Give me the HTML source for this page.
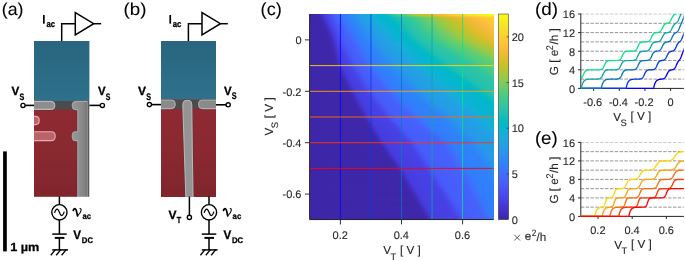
<!DOCTYPE html><html><head><meta charset="utf-8"><title>fig</title><style>html,body{margin:0;padding:0;background:#fff}svg text{white-space:pre}</style></head><body><svg width="685" height="261" viewBox="0 0 685 261" style="display:block">
<defs><filter id="bl" x="-10%" y="-10%" width="120%" height="120%"><feGaussianBlur stdDeviation="0.7"/></filter><filter id="bl2" x="-10%" y="-10%" width="120%" height="120%"><feGaussianBlur stdDeviation="0.45"/></filter></defs>
<rect width="685" height="261" fill="#fff"/>
<g opacity="0.999" text-rendering="geometricPrecision">
<defs><linearGradient id="tealg" x1="0" y1="0" x2="0" y2="1"><stop offset="0" stop-color="#29657e"/><stop offset="1" stop-color="#2e718c"/></linearGradient></defs>
<defs><linearGradient id="elg" gradientUnits="userSpaceOnUse" x1="72" y1="0" x2="88" y2="0"><stop offset="0" stop-color="#989898"/><stop offset="0.5" stop-color="#8c8c8c"/><stop offset="0.8" stop-color="#828282"/><stop offset="1" stop-color="#646464"/></linearGradient></defs>
<defs><linearGradient id="redg" x1="0" y1="0" x2="0" y2="1"><stop offset="0" stop-color="#902a32"/><stop offset="0.5" stop-color="#8a2930"/><stop offset="1" stop-color="#80252c"/></linearGradient></defs>
<text transform="translate(1.80,15.36) scale(1.0219,1.0000)" font-family="Liberation Sans" font-size="17.33" font-weight="normal" font-style="normal" fill="#000" stroke="#000" stroke-width="0.10">(a)</text>
<g>
<rect x="34" y="41" width="55.4" height="60.2" fill="url(#tealg)"/>
<rect x="34" y="101" width="55.4" height="96" fill="url(#redg)"/>
<rect x="34" y="101" width="55.4" height="8.6" fill="#4c4c4c"/>
<g filter="url(#bl2)">
<path d="M33,101.4 H50.6 Q54.8,101.4 54.8,105.4 Q54.8,109.4 50.6,109.4 H33 Z" fill="none" stroke="#4a3034" stroke-width="2.2" opacity="0.55"/>
<path d="M33,101.4 H50.6 Q54.8,101.4 54.8,105.4 Q54.8,109.4 50.6,109.4 H33 Z" fill="#8e8e8e" stroke="#b8b8b8" stroke-width="1.1"/>
<path d="M87.4,101.4 H76.4 Q72.2,101.4 72.2,105.6 Q72.2,109.6 75.4,109.6 H77.8 V131.8 H75.2 Q72.2,131.8 72.2,136.2 Q72.2,140.6 75.2,140.6 H77.8 V198 H87.4 Z" fill="none" stroke="#4a3034" stroke-width="2.2" opacity="0.55"/>
<path d="M87.4,101.4 H76.4 Q72.2,101.4 72.2,105.6 Q72.2,109.6 75.4,109.6 H77.8 V131.8 H75.2 Q72.2,131.8 72.2,136.2 Q72.2,140.6 75.2,140.6 H77.8 V198 H87.4 Z" fill="url(#elg)" stroke="#a6a6a6" stroke-width="1.1"/>
<path d="M33,116.4 H35.6 Q39.2,116.4 39.2,120.5 Q39.2,124.6 35.6,124.6 H33 Z" fill="#bc646b" stroke="#e4aeb0" stroke-width="1.1"/>
<path d="M33,131.8 H51.2 Q55.2,131.8 55.2,136.2 Q55.2,140.6 51.2,140.6 H33 Z" fill="#bc646b" stroke="#e4aeb0" stroke-width="1.1"/>
</g>
<rect x="87.7" y="101" width="1.7" height="96" fill="#5a5a5a"/>
<rect x="28" y="100" width="6" height="98" fill="#fff"/><rect x="34" y="196.8" width="56" height="3" fill="#fff"/><rect x="89.4" y="100" width="4" height="98" fill="#fff"/>
</g>
<path d="M61.7,41 V23.8 H75.3" fill="none" stroke="#000" stroke-width="1.5"/>
<path d="M75.3,12.6 V34.8 L93.7,23.7 Z" fill="#fff" stroke="#000" stroke-width="1.5" stroke-linejoin="miter"/>
<path d="M93.7,23.7 H101.1" fill="none" stroke="#000" stroke-width="1.5"/>
<path d="M25.1,105.4 H34" stroke="#000" stroke-width="1.6" fill="none"/>
<circle cx="23" cy="105.4" r="2.1" fill="#fff" stroke="#000" stroke-width="1.35"/>
<path d="M100.30000000000001,105.4 H89.4" stroke="#000" stroke-width="1.6" fill="none"/>
<circle cx="102.4" cy="105.4" r="2.1" fill="#fff" stroke="#000" stroke-width="1.35"/>
<text transform="translate(11.40,95.40) scale(0.9635,1.0000)" font-family="Liberation Sans" font-size="12.17" font-weight="bold" font-style="normal" fill="#000" stroke="#000" stroke-width="0.30">V</text>
<text transform="translate(19.40,99.51) scale(0.7765,1.0000)" font-family="Liberation Sans" font-size="9.30" font-weight="bold" font-style="normal" fill="#000" stroke="#000" stroke-width="0.30">S</text>
<text transform="translate(98.00,95.40) scale(0.9388,1.0000)" font-family="Liberation Sans" font-size="12.17" font-weight="bold" font-style="normal" fill="#000" stroke="#000" stroke-width="0.30">V</text>
<text transform="translate(105.80,99.51) scale(0.7441,1.0000)" font-family="Liberation Sans" font-size="9.30" font-weight="bold" font-style="normal" fill="#000" stroke="#000" stroke-width="0.30">S</text>
<rect x="43.0" y="15.0" width="1.7" height="8.7" fill="#000"/>
<text transform="translate(46.40,26.91) scale(0.8523,1.0000)" font-family="Liberation Sans" font-size="9.09" font-weight="bold" font-style="normal" fill="#000" stroke="#000" stroke-width="0.30">ac</text>
<path d="M59.4,196.4 V204.6 M59.4,220 V234 M59.4,237.6 V250" stroke="#000" stroke-width="1.5" fill="none"/>
<circle cx="59.4" cy="212.3" r="7.65" fill="#fff" stroke="#000" stroke-width="1.4"/>
<path d="M54.5,212.9 C56.0,207.9 57.9,207.9 59.4,212.3 C60.9,216.7 62.8,216.7 64.3,211.7" fill="none" stroke="#000" stroke-width="1.2"/>
<path d="M52.199999999999996,234.1 H66.7" stroke="#000" stroke-width="1.5"/>
<path d="M54.8,237.9 H64.4" stroke="#000" stroke-width="2.0"/>
<path d="M52.199999999999996,249.9 H68.0" stroke="#000" stroke-width="1.5"/>
<path d="M55.4,249.6 L50.8,255.2" stroke="#000" stroke-width="1.35"/>
<path d="M60.8,249.6 L56.199999999999996,255.2" stroke="#000" stroke-width="1.35"/>
<path d="M66.19999999999999,249.6 L61.599999999999994,255.2" stroke="#000" stroke-width="1.35"/>
<g transform="translate(0.00,0)" fill="none" stroke="#000" stroke-linecap="round" stroke-linejoin="round"><path d="M73.3,210.4 C73.7,209.2 74.5,208.5 75.3,208.8 C76.1,209.1 76.4,210.6 76.7,212.1 L77.5,215.9" stroke-width="1.75"/><path d="M77.5,215.9 C79.3,214.2 80.8,212.2 81.1,210.4 C81.3,209.3 80.9,208.6 80.0,208.6" stroke-width="1.05"/></g>
<text transform="translate(82.40,219.12) scale(0.9264,1.0000)" font-family="Liberation Sans" font-size="8.36" font-weight="bold" font-style="normal" fill="#000" stroke="#000" stroke-width="0.30">ac</text>
<text transform="translate(73.20,239.20) scale(0.9411,1.0000)" font-family="Liberation Sans" font-size="12.46" font-weight="bold" font-style="normal" fill="#000" stroke="#000" stroke-width="0.30">V</text>
<text transform="translate(81.80,243.32) scale(0.9488,1.0000)" font-family="Liberation Sans" font-size="8.17" font-weight="bold" font-style="normal" fill="#000" stroke="#000" stroke-width="0.30">DC</text>
<rect x="3.1" y="151.4" width="3.7" height="100" fill="#000"/>
<text transform="translate(10.20,251.13) scale(1.0779,1.0000)" font-family="Liberation Sans" font-size="11.78" font-weight="bold" font-style="normal" fill="#000" stroke="#000" stroke-width="0.28">1 µm</text>
<text transform="translate(123.60,15.36) scale(1.0786,1.0000)" font-family="Liberation Sans" font-size="17.33" font-weight="normal" font-style="normal" fill="#000" stroke="#000" stroke-width="0.09">(b)</text>
<g>
<rect x="161" y="41" width="55" height="58.6" fill="url(#tealg)"/>
<rect x="161" y="99.4" width="55" height="98" fill="url(#redg)"/>
<rect x="161" y="99.4" width="55" height="9.2" fill="#4c4c4c"/>
<g filter="url(#bl2)">
<path d="M160,100 H171.2 Q175.2,100 175.2,104.3 Q175.2,108.6 171.2,108.6 H160 Z" fill="none" stroke="#4a3034" stroke-width="2.2" opacity="0.55"/>
<path d="M160,100 H171.2 Q175.2,100 175.2,104.3 Q175.2,108.6 171.2,108.6 H160 Z" fill="#8a8a8a" stroke="#b0b0b0" stroke-width="1.1"/>
<path d="M217,100 H202.6 Q198.6,100 198.6,104.3 Q198.6,108.6 202.6,108.6 H217 Z" fill="none" stroke="#4a3034" stroke-width="2.2" opacity="0.55"/>
<path d="M217,100 H202.6 Q198.6,100 198.6,104.3 Q198.6,108.6 202.6,108.6 H217 Z" fill="#8a8a8a" stroke="#b0b0b0" stroke-width="1.1"/>
<path d="M182.8,105 Q182.8,100.2 187.4,100.2 Q191.8,100.2 191.8,105 L192.3,150 L193.1,199 H185.9 L184.3,150 Z" fill="none" stroke="#4a3034" stroke-width="2.2" opacity="0.55"/>
<path d="M182.8,105 Q182.8,100.2 187.4,100.2 Q191.8,100.2 191.8,105 L192.3,150 L193.1,199 H185.9 L184.3,150 Z" fill="#949494" stroke="#b6b6b6" stroke-width="1.1"/>
</g>
<rect x="155" y="98" width="6" height="100" fill="#fff"/><rect x="161" y="197.0" width="56" height="3" fill="#fff"/><rect x="216" y="98" width="4" height="100" fill="#fff"/>
</g>
<path d="M188.4,41 V23.8 H202.0" fill="none" stroke="#000" stroke-width="1.5"/>
<path d="M202.0,12.6 V34.8 L220.4,23.7 Z" fill="#fff" stroke="#000" stroke-width="1.5" stroke-linejoin="miter"/>
<path d="M220.4,23.7 H227.8" fill="none" stroke="#000" stroke-width="1.5"/>
<path d="M151.5,104.6 H161" stroke="#000" stroke-width="1.6" fill="none"/>
<circle cx="149.4" cy="104.6" r="2.1" fill="#fff" stroke="#000" stroke-width="1.35"/>
<path d="M226.1,104.8 H216" stroke="#000" stroke-width="1.6" fill="none"/>
<circle cx="228.2" cy="104.8" r="2.1" fill="#fff" stroke="#000" stroke-width="1.35"/>
<text transform="translate(138.00,95.40) scale(0.9882,1.0000)" font-family="Liberation Sans" font-size="12.17" font-weight="bold" font-style="normal" fill="#000" stroke="#000" stroke-width="0.30">V</text>
<text transform="translate(146.20,99.70) scale(0.7536,1.0000)" font-family="Liberation Sans" font-size="9.58" font-weight="bold" font-style="normal" fill="#000" stroke="#000" stroke-width="0.30">S</text>
<text transform="translate(224.00,95.00) scale(0.9388,1.0000)" font-family="Liberation Sans" font-size="12.17" font-weight="bold" font-style="normal" fill="#000" stroke="#000" stroke-width="0.30">V</text>
<text transform="translate(231.80,99.30) scale(0.7536,1.0000)" font-family="Liberation Sans" font-size="9.58" font-weight="bold" font-style="normal" fill="#000" stroke="#000" stroke-width="0.30">S</text>
<rect x="169.4" y="15.0" width="1.7" height="8.7" fill="#000"/>
<text transform="translate(172.80,26.91) scale(0.8523,1.0000)" font-family="Liberation Sans" font-size="9.09" font-weight="bold" font-style="normal" fill="#000" stroke="#000" stroke-width="0.30">ac</text>
<path d="M209.0,196.6 V204.6 M209.0,220 V234 M209.0,237.6 V250" stroke="#000" stroke-width="1.5" fill="none"/>
<circle cx="209.0" cy="212.3" r="7.65" fill="#fff" stroke="#000" stroke-width="1.4"/>
<path d="M204.1,212.9 C205.6,207.9 207.5,207.9 209.0,212.3 C210.5,216.7 212.4,216.7 213.9,211.7" fill="none" stroke="#000" stroke-width="1.2"/>
<path d="M201.8,234.1 H216.3" stroke="#000" stroke-width="1.5"/>
<path d="M204.4,237.9 H214.0" stroke="#000" stroke-width="2.0"/>
<path d="M201.8,249.9 H217.6" stroke="#000" stroke-width="1.5"/>
<path d="M205.0,249.6 L200.4,255.2" stroke="#000" stroke-width="1.35"/>
<path d="M210.4,249.6 L205.8,255.2" stroke="#000" stroke-width="1.35"/>
<path d="M215.79999999999998,249.6 L211.2,255.2" stroke="#000" stroke-width="1.35"/>
<g transform="translate(150.20,0)" fill="none" stroke="#000" stroke-linecap="round" stroke-linejoin="round"><path d="M73.3,210.4 C73.7,209.2 74.5,208.5 75.3,208.8 C76.1,209.1 76.4,210.6 76.7,212.1 L77.5,215.9" stroke-width="1.75"/><path d="M77.5,215.9 C79.3,214.2 80.8,212.2 81.1,210.4 C81.3,209.3 80.9,208.6 80.0,208.6" stroke-width="1.05"/></g>
<text transform="translate(232.60,219.12) scale(0.9264,1.0000)" font-family="Liberation Sans" font-size="8.36" font-weight="bold" font-style="normal" fill="#000" stroke="#000" stroke-width="0.30">ac</text>
<text transform="translate(223.40,239.20) scale(0.9411,1.0000)" font-family="Liberation Sans" font-size="12.46" font-weight="bold" font-style="normal" fill="#000" stroke="#000" stroke-width="0.30">V</text>
<text transform="translate(232.00,243.32) scale(0.9488,1.0000)" font-family="Liberation Sans" font-size="8.17" font-weight="bold" font-style="normal" fill="#000" stroke="#000" stroke-width="0.30">DC</text>
<path d="M189.4,196.6 V215.4" stroke="#000" stroke-width="1.5" fill="none"/>
<circle cx="189.4" cy="217.4" r="2.1" fill="#fff" stroke="#000" stroke-width="1.35"/>
<text transform="translate(168.60,219.40) scale(0.9882,1.0000)" font-family="Liberation Sans" font-size="12.17" font-weight="bold" font-style="normal" fill="#000" stroke="#000" stroke-width="0.30">V</text>
<text transform="translate(176.80,223.00) scale(0.8295,1.0000)" font-family="Liberation Sans" font-size="8.70" font-weight="bold" font-style="normal" fill="#000" stroke="#000" stroke-width="0.30">T</text>
<text transform="translate(260.60,15.32) scale(1.0375,1.0000)" font-family="Liberation Sans" font-size="17.54" font-weight="normal" font-style="normal" fill="#000" stroke="#000" stroke-width="0.10">(c)</text>
<defs><linearGradient id="r0"><stop offset="0.000" stop-color="#3e26a8"/><stop offset="0.038" stop-color="#3e27ab"/><stop offset="0.054" stop-color="#402bb8"/><stop offset="0.071" stop-color="#4536d4"/><stop offset="0.082" stop-color="#463de0"/><stop offset="0.125" stop-color="#475af9"/><stop offset="0.158" stop-color="#3f6eff"/><stop offset="0.185" stop-color="#317efb"/><stop offset="0.262" stop-color="#259be8"/><stop offset="0.300" stop-color="#1fa6e1"/><stop offset="0.332" stop-color="#14b0d8"/><stop offset="0.387" stop-color="#02b7cb"/><stop offset="0.403" stop-color="#02bac4"/><stop offset="0.414" stop-color="#0abdbe"/><stop offset="0.441" stop-color="#2bc3a8"/><stop offset="0.474" stop-color="#40ca8d"/><stop offset="0.512" stop-color="#61cd72"/><stop offset="0.529" stop-color="#75cc61"/><stop offset="0.545" stop-color="#8fcb4e"/><stop offset="0.578" stop-color="#adc638"/><stop offset="0.610" stop-color="#c5c22a"/><stop offset="0.627" stop-color="#d0bf27"/><stop offset="0.649" stop-color="#dfbc2a"/><stop offset="0.681" stop-color="#efba36"/><stop offset="0.703" stop-color="#f8ba3d"/><stop offset="0.725" stop-color="#febe3c"/><stop offset="0.785" stop-color="#fccf30"/><stop offset="0.866" stop-color="#f5e327"/><stop offset="0.916" stop-color="#f6f020"/><stop offset="0.997" stop-color="#f9fb15"/></linearGradient><linearGradient id="r1"><stop offset="0.000" stop-color="#3e26a8"/><stop offset="0.038" stop-color="#3e27aa"/><stop offset="0.054" stop-color="#402ab4"/><stop offset="0.076" stop-color="#4538d8"/><stop offset="0.087" stop-color="#473fe2"/><stop offset="0.125" stop-color="#4758f8"/><stop offset="0.163" stop-color="#3e70ff"/><stop offset="0.185" stop-color="#327cfc"/><stop offset="0.218" stop-color="#2d88f6"/><stop offset="0.262" stop-color="#269ae9"/><stop offset="0.300" stop-color="#20a5e2"/><stop offset="0.338" stop-color="#14b0d8"/><stop offset="0.392" stop-color="#02b7cb"/><stop offset="0.409" stop-color="#02bac4"/><stop offset="0.420" stop-color="#09bcbe"/><stop offset="0.447" stop-color="#29c3a9"/><stop offset="0.485" stop-color="#41ca8c"/><stop offset="0.512" stop-color="#57cc7a"/><stop offset="0.529" stop-color="#68cd6c"/><stop offset="0.550" stop-color="#88cb53"/><stop offset="0.589" stop-color="#aac73a"/><stop offset="0.627" stop-color="#c6c22a"/><stop offset="0.643" stop-color="#d1bf27"/><stop offset="0.692" stop-color="#ecba33"/><stop offset="0.719" stop-color="#f7ba3c"/><stop offset="0.747" stop-color="#febf3b"/><stop offset="0.796" stop-color="#fdcd32"/><stop offset="0.888" stop-color="#f5e327"/><stop offset="0.937" stop-color="#f6ef20"/><stop offset="0.997" stop-color="#f8f818"/></linearGradient><linearGradient id="r2"><stop offset="0.000" stop-color="#3e26a8"/><stop offset="0.044" stop-color="#3e27ab"/><stop offset="0.060" stop-color="#402bb8"/><stop offset="0.076" stop-color="#4536d5"/><stop offset="0.087" stop-color="#463ee1"/><stop offset="0.125" stop-color="#4756f7"/><stop offset="0.163" stop-color="#3f6efe"/><stop offset="0.191" stop-color="#317dfc"/><stop offset="0.218" stop-color="#2e86f7"/><stop offset="0.267" stop-color="#269ae8"/><stop offset="0.305" stop-color="#20a5e2"/><stop offset="0.343" stop-color="#14b0d8"/><stop offset="0.403" stop-color="#01b8ca"/><stop offset="0.420" stop-color="#02bac4"/><stop offset="0.431" stop-color="#08bcbf"/><stop offset="0.463" stop-color="#29c3aa"/><stop offset="0.512" stop-color="#3cc991"/><stop offset="0.529" stop-color="#46cb88"/><stop offset="0.583" stop-color="#79cc5e"/><stop offset="0.665" stop-color="#bbc430"/><stop offset="0.698" stop-color="#cfc028"/><stop offset="0.725" stop-color="#ddbd29"/><stop offset="0.779" stop-color="#f6ba3b"/><stop offset="0.807" stop-color="#febd3c"/><stop offset="0.839" stop-color="#fec438"/><stop offset="0.943" stop-color="#f6dd29"/><stop offset="0.997" stop-color="#f5e626"/></linearGradient><linearGradient id="r3"><stop offset="0.000" stop-color="#3e26a8"/><stop offset="0.044" stop-color="#3e27aa"/><stop offset="0.060" stop-color="#402ab4"/><stop offset="0.082" stop-color="#4539d8"/><stop offset="0.093" stop-color="#473fe3"/><stop offset="0.131" stop-color="#4758f8"/><stop offset="0.169" stop-color="#3e6fff"/><stop offset="0.191" stop-color="#327cfc"/><stop offset="0.223" stop-color="#2e87f7"/><stop offset="0.267" stop-color="#2699e9"/><stop offset="0.338" stop-color="#18aedb"/><stop offset="0.381" stop-color="#08b4d1"/><stop offset="0.414" stop-color="#01b8ca"/><stop offset="0.431" stop-color="#02bac5"/><stop offset="0.447" stop-color="#0abdbd"/><stop offset="0.480" stop-color="#24c2ae"/><stop offset="0.529" stop-color="#33c79d"/><stop offset="0.556" stop-color="#3fca8e"/><stop offset="0.621" stop-color="#6fcd66"/><stop offset="0.681" stop-color="#a1c840"/><stop offset="0.741" stop-color="#c5c22a"/><stop offset="0.763" stop-color="#d2bf27"/><stop offset="0.807" stop-color="#e8bb2f"/><stop offset="0.861" stop-color="#f8ba3d"/><stop offset="0.883" stop-color="#fdbd3d"/><stop offset="0.997" stop-color="#fad52d"/></linearGradient><linearGradient id="r4"><stop offset="0.000" stop-color="#3e26a8"/><stop offset="0.049" stop-color="#3e27ab"/><stop offset="0.065" stop-color="#402bb6"/><stop offset="0.087" stop-color="#463ada"/><stop offset="0.098" stop-color="#4740e4"/><stop offset="0.136" stop-color="#475af9"/><stop offset="0.174" stop-color="#3e70ff"/><stop offset="0.196" stop-color="#327cfc"/><stop offset="0.229" stop-color="#2e87f7"/><stop offset="0.272" stop-color="#2699e9"/><stop offset="0.343" stop-color="#19addc"/><stop offset="0.392" stop-color="#07b5d0"/><stop offset="0.425" stop-color="#01b8ca"/><stop offset="0.441" stop-color="#02bac4"/><stop offset="0.496" stop-color="#24c1ae"/><stop offset="0.540" stop-color="#31c6a0"/><stop offset="0.578" stop-color="#40ca8d"/><stop offset="0.638" stop-color="#69cd6a"/><stop offset="0.703" stop-color="#9ec942"/><stop offset="0.768" stop-color="#c6c22a"/><stop offset="0.790" stop-color="#d3bf27"/><stop offset="0.823" stop-color="#e2bc2b"/><stop offset="0.894" stop-color="#f8ba3d"/><stop offset="0.916" stop-color="#febd3c"/><stop offset="0.997" stop-color="#fdce31"/></linearGradient><linearGradient id="r5"><stop offset="0.000" stop-color="#3e26a8"/><stop offset="0.049" stop-color="#3e27aa"/><stop offset="0.060" stop-color="#3f28ad"/><stop offset="0.071" stop-color="#402bb6"/><stop offset="0.093" stop-color="#463adb"/><stop offset="0.104" stop-color="#4740e4"/><stop offset="0.142" stop-color="#475af9"/><stop offset="0.180" stop-color="#3e6fff"/><stop offset="0.202" stop-color="#327cfc"/><stop offset="0.234" stop-color="#2e86f7"/><stop offset="0.283" stop-color="#269ae9"/><stop offset="0.327" stop-color="#20a5e3"/><stop offset="0.371" stop-color="#12b1d6"/><stop offset="0.403" stop-color="#07b5d0"/><stop offset="0.436" stop-color="#01b8ca"/><stop offset="0.452" stop-color="#02bac4"/><stop offset="0.507" stop-color="#25c2ae"/><stop offset="0.550" stop-color="#31c6a0"/><stop offset="0.583" stop-color="#3eca8f"/><stop offset="0.649" stop-color="#69cd6a"/><stop offset="0.714" stop-color="#9dc943"/><stop offset="0.779" stop-color="#c4c22b"/><stop offset="0.801" stop-color="#d1bf27"/><stop offset="0.823" stop-color="#ddbd29"/><stop offset="0.910" stop-color="#f8ba3d"/><stop offset="0.932" stop-color="#febe3c"/><stop offset="0.997" stop-color="#fdcc32"/></linearGradient><linearGradient id="r6"><stop offset="0.000" stop-color="#3e26a8"/><stop offset="0.049" stop-color="#3e27a9"/><stop offset="0.065" stop-color="#3f28ad"/><stop offset="0.076" stop-color="#402bb7"/><stop offset="0.098" stop-color="#463adb"/><stop offset="0.109" stop-color="#4741e4"/><stop offset="0.142" stop-color="#4757f7"/><stop offset="0.185" stop-color="#3e6fff"/><stop offset="0.207" stop-color="#327bfc"/><stop offset="0.245" stop-color="#2d87f6"/><stop offset="0.294" stop-color="#269be8"/><stop offset="0.338" stop-color="#20a5e2"/><stop offset="0.381" stop-color="#12b1d6"/><stop offset="0.414" stop-color="#07b5d0"/><stop offset="0.447" stop-color="#01b8c9"/><stop offset="0.463" stop-color="#02bac4"/><stop offset="0.512" stop-color="#23c1af"/><stop offset="0.561" stop-color="#32c69f"/><stop offset="0.594" stop-color="#3fca8e"/><stop offset="0.659" stop-color="#69cd6a"/><stop offset="0.725" stop-color="#9dc943"/><stop offset="0.790" stop-color="#c3c22b"/><stop offset="0.812" stop-color="#d0bf27"/><stop offset="0.834" stop-color="#dbbd29"/><stop offset="0.926" stop-color="#f9ba3d"/><stop offset="0.948" stop-color="#febe3c"/><stop offset="0.997" stop-color="#fec934"/></linearGradient><linearGradient id="r7"><stop offset="0.000" stop-color="#3e26a8"/><stop offset="0.054" stop-color="#3e27a9"/><stop offset="0.071" stop-color="#3f28ad"/><stop offset="0.082" stop-color="#402bb7"/><stop offset="0.104" stop-color="#463adb"/><stop offset="0.114" stop-color="#4741e5"/><stop offset="0.147" stop-color="#4757f7"/><stop offset="0.191" stop-color="#3f6eff"/><stop offset="0.218" stop-color="#317dfc"/><stop offset="0.251" stop-color="#2e87f7"/><stop offset="0.300" stop-color="#269ae9"/><stop offset="0.349" stop-color="#20a5e2"/><stop offset="0.392" stop-color="#12b1d6"/><stop offset="0.452" stop-color="#02b7cb"/><stop offset="0.474" stop-color="#02bac3"/><stop offset="0.523" stop-color="#23c1af"/><stop offset="0.589" stop-color="#38c896"/><stop offset="0.659" stop-color="#62cd70"/><stop offset="0.736" stop-color="#9cc944"/><stop offset="0.807" stop-color="#c5c22a"/><stop offset="0.828" stop-color="#d2bf27"/><stop offset="0.877" stop-color="#e7bb2e"/><stop offset="0.937" stop-color="#f8ba3d"/><stop offset="0.965" stop-color="#febe3c"/><stop offset="0.997" stop-color="#fec636"/></linearGradient><linearGradient id="r8"><stop offset="0.000" stop-color="#3e26a8"/><stop offset="0.054" stop-color="#3e26a9"/><stop offset="0.076" stop-color="#3f28ad"/><stop offset="0.087" stop-color="#402bb7"/><stop offset="0.109" stop-color="#463adc"/><stop offset="0.120" stop-color="#4741e5"/><stop offset="0.153" stop-color="#4758f8"/><stop offset="0.196" stop-color="#3f6eff"/><stop offset="0.223" stop-color="#317dfc"/><stop offset="0.256" stop-color="#2e86f7"/><stop offset="0.305" stop-color="#2699e9"/><stop offset="0.360" stop-color="#1fa5e2"/><stop offset="0.403" stop-color="#12b1d6"/><stop offset="0.463" stop-color="#01b7ca"/><stop offset="0.485" stop-color="#02bbc3"/><stop offset="0.534" stop-color="#24c1ae"/><stop offset="0.599" stop-color="#39c995"/><stop offset="0.670" stop-color="#62cd70"/><stop offset="0.752" stop-color="#9fc942"/><stop offset="0.817" stop-color="#c4c22b"/><stop offset="0.839" stop-color="#d1bf27"/><stop offset="0.888" stop-color="#e6bb2d"/><stop offset="0.954" stop-color="#f8ba3d"/><stop offset="0.997" stop-color="#fec339"/></linearGradient><linearGradient id="r9"><stop offset="0.000" stop-color="#3e26a8"/><stop offset="0.076" stop-color="#3e27ab"/><stop offset="0.093" stop-color="#402bb8"/><stop offset="0.109" stop-color="#4537d6"/><stop offset="0.125" stop-color="#4742e6"/><stop offset="0.158" stop-color="#4758f8"/><stop offset="0.191" stop-color="#4366fd"/><stop offset="0.207" stop-color="#3d70ff"/><stop offset="0.229" stop-color="#327cfc"/><stop offset="0.267" stop-color="#2e87f7"/><stop offset="0.316" stop-color="#269ae9"/><stop offset="0.365" stop-color="#20a4e3"/><stop offset="0.414" stop-color="#11b1d6"/><stop offset="0.474" stop-color="#01b8ca"/><stop offset="0.490" stop-color="#02bac5"/><stop offset="0.507" stop-color="#09bdbe"/><stop offset="0.545" stop-color="#24c2ae"/><stop offset="0.605" stop-color="#37c898"/><stop offset="0.665" stop-color="#58cc79"/><stop offset="0.703" stop-color="#6fcd66"/><stop offset="0.763" stop-color="#9dc943"/><stop offset="0.834" stop-color="#c5c22a"/><stop offset="0.856" stop-color="#d1bf27"/><stop offset="0.894" stop-color="#e3bc2c"/><stop offset="0.965" stop-color="#f7ba3c"/><stop offset="0.997" stop-color="#febf3b"/></linearGradient><linearGradient id="r10"><stop offset="0.000" stop-color="#3e26a8"/><stop offset="0.082" stop-color="#3e27ac"/><stop offset="0.098" stop-color="#412cb9"/><stop offset="0.120" stop-color="#463cde"/><stop offset="0.136" stop-color="#4746ea"/><stop offset="0.163" stop-color="#4759f8"/><stop offset="0.213" stop-color="#3f6fff"/><stop offset="0.240" stop-color="#317dfc"/><stop offset="0.272" stop-color="#2e86f7"/><stop offset="0.322" stop-color="#2699e9"/><stop offset="0.376" stop-color="#20a4e3"/><stop offset="0.420" stop-color="#13b0d7"/><stop offset="0.452" stop-color="#08b5d0"/><stop offset="0.485" stop-color="#01b8ca"/><stop offset="0.501" stop-color="#02bac4"/><stop offset="0.550" stop-color="#22c1b0"/><stop offset="0.621" stop-color="#39c895"/><stop offset="0.676" stop-color="#58cc7a"/><stop offset="0.714" stop-color="#6dcd67"/><stop offset="0.779" stop-color="#9ec942"/><stop offset="0.850" stop-color="#c5c22a"/><stop offset="0.872" stop-color="#d2bf27"/><stop offset="0.905" stop-color="#e1bc2b"/><stop offset="0.981" stop-color="#f8ba3d"/><stop offset="0.997" stop-color="#fcbd3d"/></linearGradient><linearGradient id="r11"><stop offset="0.000" stop-color="#3e26a8"/><stop offset="0.087" stop-color="#3e27ac"/><stop offset="0.104" stop-color="#412dbb"/><stop offset="0.125" stop-color="#463ddf"/><stop offset="0.142" stop-color="#4747eb"/><stop offset="0.169" stop-color="#475af9"/><stop offset="0.218" stop-color="#406dfe"/><stop offset="0.245" stop-color="#327cfc"/><stop offset="0.283" stop-color="#2e87f7"/><stop offset="0.327" stop-color="#2798ea"/><stop offset="0.387" stop-color="#20a4e3"/><stop offset="0.431" stop-color="#13b0d7"/><stop offset="0.463" stop-color="#07b5d0"/><stop offset="0.496" stop-color="#01b8c9"/><stop offset="0.512" stop-color="#02bac4"/><stop offset="0.561" stop-color="#23c1af"/><stop offset="0.632" stop-color="#38c896"/><stop offset="0.708" stop-color="#62cd71"/><stop offset="0.790" stop-color="#9cc944"/><stop offset="0.866" stop-color="#c6c22a"/><stop offset="0.910" stop-color="#ddbd29"/><stop offset="0.997" stop-color="#f9bb3d"/></linearGradient><linearGradient id="r12"><stop offset="0.000" stop-color="#3e26a8"/><stop offset="0.071" stop-color="#3e26a9"/><stop offset="0.093" stop-color="#3e28ac"/><stop offset="0.104" stop-color="#402ab5"/><stop offset="0.131" stop-color="#463de0"/><stop offset="0.153" stop-color="#484cf0"/><stop offset="0.174" stop-color="#475af9"/><stop offset="0.207" stop-color="#4564fd"/><stop offset="0.229" stop-color="#3e6fff"/><stop offset="0.256" stop-color="#317dfc"/><stop offset="0.289" stop-color="#2e86f7"/><stop offset="0.338" stop-color="#2699e9"/><stop offset="0.409" stop-color="#1ea7e1"/><stop offset="0.474" stop-color="#07b5d0"/><stop offset="0.501" stop-color="#01b7ca"/><stop offset="0.523" stop-color="#02bbc3"/><stop offset="0.572" stop-color="#23c1af"/><stop offset="0.643" stop-color="#38c896"/><stop offset="0.703" stop-color="#59cc79"/><stop offset="0.741" stop-color="#6dcd67"/><stop offset="0.807" stop-color="#9dc943"/><stop offset="0.877" stop-color="#c3c22b"/><stop offset="0.921" stop-color="#dbbd29"/><stop offset="0.997" stop-color="#f5ba3a"/></linearGradient><linearGradient id="r13"><stop offset="0.000" stop-color="#3e26a8"/><stop offset="0.093" stop-color="#3e27ab"/><stop offset="0.109" stop-color="#402bb6"/><stop offset="0.125" stop-color="#4536d3"/><stop offset="0.136" stop-color="#473ee1"/><stop offset="0.158" stop-color="#484df1"/><stop offset="0.180" stop-color="#475bf9"/><stop offset="0.213" stop-color="#4563fd"/><stop offset="0.234" stop-color="#3f6dfe"/><stop offset="0.262" stop-color="#327cfc"/><stop offset="0.300" stop-color="#2e87f7"/><stop offset="0.343" stop-color="#2798ea"/><stop offset="0.409" stop-color="#20a4e3"/><stop offset="0.480" stop-color="#08b4d1"/><stop offset="0.512" stop-color="#01b8ca"/><stop offset="0.529" stop-color="#02bac5"/><stop offset="0.583" stop-color="#24c1af"/><stop offset="0.654" stop-color="#38c896"/><stop offset="0.714" stop-color="#58cc79"/><stop offset="0.757" stop-color="#6fcd66"/><stop offset="0.823" stop-color="#9fc942"/><stop offset="0.894" stop-color="#c4c22b"/><stop offset="0.937" stop-color="#dcbd29"/><stop offset="0.997" stop-color="#f1ba36"/></linearGradient><linearGradient id="r14"><stop offset="0.000" stop-color="#3e26a8"/><stop offset="0.098" stop-color="#3e27ab"/><stop offset="0.114" stop-color="#402bb7"/><stop offset="0.136" stop-color="#463bdd"/><stop offset="0.163" stop-color="#484ef1"/><stop offset="0.185" stop-color="#475bf9"/><stop offset="0.223" stop-color="#4464fd"/><stop offset="0.245" stop-color="#3e6fff"/><stop offset="0.272" stop-color="#317dfc"/><stop offset="0.305" stop-color="#2e86f7"/><stop offset="0.354" stop-color="#2699e9"/><stop offset="0.420" stop-color="#20a4e3"/><stop offset="0.490" stop-color="#08b4d1"/><stop offset="0.523" stop-color="#01b8ca"/><stop offset="0.540" stop-color="#02bac4"/><stop offset="0.594" stop-color="#24c1ae"/><stop offset="0.665" stop-color="#37c897"/><stop offset="0.703" stop-color="#4ccb83"/><stop offset="0.752" stop-color="#63cd6f"/><stop offset="0.823" stop-color="#96ca49"/><stop offset="0.861" stop-color="#abc739"/><stop offset="0.932" stop-color="#d1bf27"/><stop offset="0.997" stop-color="#ecba33"/></linearGradient><linearGradient id="r15"><stop offset="0.000" stop-color="#3e26a8"/><stop offset="0.104" stop-color="#3e27ac"/><stop offset="0.120" stop-color="#412cba"/><stop offset="0.142" stop-color="#463cdf"/><stop offset="0.169" stop-color="#484ff2"/><stop offset="0.191" stop-color="#475bf9"/><stop offset="0.229" stop-color="#4564fd"/><stop offset="0.251" stop-color="#3f6eff"/><stop offset="0.278" stop-color="#317dfc"/><stop offset="0.316" stop-color="#2e87f7"/><stop offset="0.365" stop-color="#2699e9"/><stop offset="0.431" stop-color="#20a4e3"/><stop offset="0.501" stop-color="#08b4d1"/><stop offset="0.534" stop-color="#01b8ca"/><stop offset="0.550" stop-color="#02bac4"/><stop offset="0.605" stop-color="#24c1af"/><stop offset="0.654" stop-color="#30c5a2"/><stop offset="0.681" stop-color="#38c896"/><stop offset="0.719" stop-color="#4ccb83"/><stop offset="0.774" stop-color="#66cd6d"/><stop offset="0.839" stop-color="#94ca4a"/><stop offset="0.872" stop-color="#a7c73c"/><stop offset="0.948" stop-color="#cfc028"/><stop offset="0.997" stop-color="#e6bb2d"/></linearGradient><linearGradient id="r16"><stop offset="0.000" stop-color="#3e26a8"/><stop offset="0.104" stop-color="#3e27ab"/><stop offset="0.120" stop-color="#402bb6"/><stop offset="0.136" stop-color="#4536d3"/><stop offset="0.147" stop-color="#463ee0"/><stop offset="0.174" stop-color="#484ff2"/><stop offset="0.196" stop-color="#475bf9"/><stop offset="0.234" stop-color="#4564fd"/><stop offset="0.256" stop-color="#3f6eff"/><stop offset="0.283" stop-color="#327cfc"/><stop offset="0.322" stop-color="#2e86f7"/><stop offset="0.371" stop-color="#2699ea"/><stop offset="0.447" stop-color="#1fa6e2"/><stop offset="0.485" stop-color="#12b1d7"/><stop offset="0.518" stop-color="#07b5d0"/><stop offset="0.545" stop-color="#01b7ca"/><stop offset="0.567" stop-color="#02bbc3"/><stop offset="0.616" stop-color="#22c1b0"/><stop offset="0.670" stop-color="#2fc5a2"/><stop offset="0.698" stop-color="#37c897"/><stop offset="0.741" stop-color="#4ecc81"/><stop offset="0.790" stop-color="#63cd6f"/><stop offset="0.883" stop-color="#a1c840"/><stop offset="0.959" stop-color="#c7c12a"/><stop offset="0.997" stop-color="#dcbd29"/></linearGradient><linearGradient id="r17"><stop offset="0.000" stop-color="#3e26a8"/><stop offset="0.109" stop-color="#3e27ac"/><stop offset="0.125" stop-color="#412cba"/><stop offset="0.147" stop-color="#463bde"/><stop offset="0.180" stop-color="#484ff2"/><stop offset="0.202" stop-color="#475bf9"/><stop offset="0.240" stop-color="#4563fd"/><stop offset="0.262" stop-color="#3f6eff"/><stop offset="0.289" stop-color="#327cfc"/><stop offset="0.332" stop-color="#2e87f7"/><stop offset="0.381" stop-color="#2699e9"/><stop offset="0.447" stop-color="#21a3e3"/><stop offset="0.490" stop-color="#14b0d8"/><stop offset="0.529" stop-color="#07b5d0"/><stop offset="0.561" stop-color="#01b8ca"/><stop offset="0.578" stop-color="#02bac4"/><stop offset="0.632" stop-color="#23c1af"/><stop offset="0.687" stop-color="#2fc5a3"/><stop offset="0.714" stop-color="#36c898"/><stop offset="0.757" stop-color="#4ccb82"/><stop offset="0.812" stop-color="#63cd6f"/><stop offset="0.899" stop-color="#9ec942"/><stop offset="0.997" stop-color="#cfc028"/></linearGradient><linearGradient id="r18"><stop offset="0.000" stop-color="#3e26a8"/><stop offset="0.109" stop-color="#3e27ab"/><stop offset="0.125" stop-color="#402bb6"/><stop offset="0.142" stop-color="#4536d3"/><stop offset="0.153" stop-color="#463ddf"/><stop offset="0.185" stop-color="#484ff2"/><stop offset="0.207" stop-color="#475bf9"/><stop offset="0.245" stop-color="#4563fd"/><stop offset="0.267" stop-color="#3f6efe"/><stop offset="0.294" stop-color="#327cfc"/><stop offset="0.343" stop-color="#2d87f6"/><stop offset="0.392" stop-color="#269ae9"/><stop offset="0.463" stop-color="#20a5e2"/><stop offset="0.501" stop-color="#14b0d8"/><stop offset="0.540" stop-color="#07b5d0"/><stop offset="0.572" stop-color="#01b8ca"/><stop offset="0.594" stop-color="#02bbc3"/><stop offset="0.627" stop-color="#19bfb5"/><stop offset="0.649" stop-color="#24c1af"/><stop offset="0.703" stop-color="#2fc5a3"/><stop offset="0.736" stop-color="#37c897"/><stop offset="0.779" stop-color="#4ecc81"/><stop offset="0.834" stop-color="#64cd6f"/><stop offset="0.921" stop-color="#9dc943"/><stop offset="0.997" stop-color="#c1c32d"/></linearGradient><linearGradient id="r19"><stop offset="0.000" stop-color="#3e26a8"/><stop offset="0.114" stop-color="#3e27ac"/><stop offset="0.131" stop-color="#412cba"/><stop offset="0.147" stop-color="#4538d7"/><stop offset="0.163" stop-color="#4740e4"/><stop offset="0.207" stop-color="#4759f8"/><stop offset="0.251" stop-color="#4563fd"/><stop offset="0.272" stop-color="#3f6dfe"/><stop offset="0.300" stop-color="#327cfc"/><stop offset="0.349" stop-color="#2e86f7"/><stop offset="0.398" stop-color="#2699e9"/><stop offset="0.469" stop-color="#21a4e3"/><stop offset="0.512" stop-color="#14b0d8"/><stop offset="0.550" stop-color="#08b5d0"/><stop offset="0.605" stop-color="#02bac4"/><stop offset="0.659" stop-color="#22c1af"/><stop offset="0.719" stop-color="#2ec5a4"/><stop offset="0.752" stop-color="#37c898"/><stop offset="0.796" stop-color="#4dcb82"/><stop offset="0.856" stop-color="#64cd6f"/><stop offset="0.877" stop-color="#70cd65"/><stop offset="0.937" stop-color="#9ac945"/><stop offset="0.997" stop-color="#b4c533"/></linearGradient><linearGradient id="r20"><stop offset="0.000" stop-color="#3e26a8"/><stop offset="0.114" stop-color="#3e27ab"/><stop offset="0.131" stop-color="#402bb7"/><stop offset="0.153" stop-color="#4639da"/><stop offset="0.163" stop-color="#473fe2"/><stop offset="0.185" stop-color="#4848ec"/><stop offset="0.213" stop-color="#4759f8"/><stop offset="0.256" stop-color="#4563fd"/><stop offset="0.278" stop-color="#406dfe"/><stop offset="0.305" stop-color="#327cfc"/><stop offset="0.360" stop-color="#2e87f7"/><stop offset="0.409" stop-color="#2699e9"/><stop offset="0.480" stop-color="#20a4e3"/><stop offset="0.523" stop-color="#14b0d8"/><stop offset="0.556" stop-color="#09b4d1"/><stop offset="0.599" stop-color="#01b8ca"/><stop offset="0.616" stop-color="#02bac5"/><stop offset="0.676" stop-color="#23c1af"/><stop offset="0.736" stop-color="#2ec4a4"/><stop offset="0.768" stop-color="#36c899"/><stop offset="0.817" stop-color="#4ecc81"/><stop offset="0.877" stop-color="#64cd6f"/><stop offset="0.899" stop-color="#70cd65"/><stop offset="0.954" stop-color="#97ca48"/><stop offset="0.997" stop-color="#abc739"/></linearGradient><linearGradient id="r21"><stop offset="0.000" stop-color="#3e26a8"/><stop offset="0.098" stop-color="#3e26a9"/><stop offset="0.120" stop-color="#3e27ac"/><stop offset="0.131" stop-color="#402ab4"/><stop offset="0.153" stop-color="#4538d7"/><stop offset="0.163" stop-color="#463de0"/><stop offset="0.185" stop-color="#4745e9"/><stop offset="0.218" stop-color="#4759f8"/><stop offset="0.262" stop-color="#4563fd"/><stop offset="0.289" stop-color="#3d70ff"/><stop offset="0.316" stop-color="#317dfc"/><stop offset="0.365" stop-color="#2e86f7"/><stop offset="0.420" stop-color="#269ae9"/><stop offset="0.485" stop-color="#21a3e3"/><stop offset="0.534" stop-color="#13b0d7"/><stop offset="0.567" stop-color="#09b4d1"/><stop offset="0.616" stop-color="#01b8c9"/><stop offset="0.632" stop-color="#02bac4"/><stop offset="0.687" stop-color="#22c1b0"/><stop offset="0.752" stop-color="#2ec4a5"/><stop offset="0.790" stop-color="#37c897"/><stop offset="0.839" stop-color="#4fcc80"/><stop offset="0.899" stop-color="#64cd6e"/><stop offset="0.921" stop-color="#70cd65"/><stop offset="0.970" stop-color="#93ca4a"/><stop offset="0.997" stop-color="#a2c840"/></linearGradient><linearGradient id="r22"><stop offset="0.000" stop-color="#3e26a8"/><stop offset="0.120" stop-color="#3e27ab"/><stop offset="0.136" stop-color="#402bb7"/><stop offset="0.153" stop-color="#4536d3"/><stop offset="0.169" stop-color="#463ee1"/><stop offset="0.191" stop-color="#4745e9"/><stop offset="0.223" stop-color="#4759f8"/><stop offset="0.267" stop-color="#4563fc"/><stop offset="0.294" stop-color="#3d70ff"/><stop offset="0.322" stop-color="#317dfc"/><stop offset="0.376" stop-color="#2e87f7"/><stop offset="0.425" stop-color="#2699e9"/><stop offset="0.496" stop-color="#21a3e3"/><stop offset="0.545" stop-color="#13b0d7"/><stop offset="0.578" stop-color="#09b4d1"/><stop offset="0.627" stop-color="#01b8ca"/><stop offset="0.643" stop-color="#02bac5"/><stop offset="0.703" stop-color="#23c1af"/><stop offset="0.768" stop-color="#2dc4a5"/><stop offset="0.801" stop-color="#35c79b"/><stop offset="0.856" stop-color="#4ecc81"/><stop offset="0.921" stop-color="#65cd6e"/><stop offset="0.943" stop-color="#70cd65"/><stop offset="0.997" stop-color="#97ca48"/></linearGradient><linearGradient id="r23"><stop offset="0.000" stop-color="#3e26a8"/><stop offset="0.109" stop-color="#3e27a9"/><stop offset="0.131" stop-color="#3f28af"/><stop offset="0.142" stop-color="#412dbb"/><stop offset="0.158" stop-color="#4538d7"/><stop offset="0.169" stop-color="#463de0"/><stop offset="0.196" stop-color="#4745e9"/><stop offset="0.229" stop-color="#4759f8"/><stop offset="0.283" stop-color="#4367fd"/><stop offset="0.311" stop-color="#3776fe"/><stop offset="0.327" stop-color="#317dfc"/><stop offset="0.381" stop-color="#2e86f7"/><stop offset="0.436" stop-color="#2699e9"/><stop offset="0.507" stop-color="#21a3e3"/><stop offset="0.550" stop-color="#15afd9"/><stop offset="0.583" stop-color="#0ab4d2"/><stop offset="0.632" stop-color="#03b7cc"/><stop offset="0.659" stop-color="#02bac4"/><stop offset="0.714" stop-color="#22c1b0"/><stop offset="0.785" stop-color="#2dc4a5"/><stop offset="0.817" stop-color="#34c79c"/><stop offset="0.872" stop-color="#4dcc82"/><stop offset="0.943" stop-color="#65cd6e"/><stop offset="0.965" stop-color="#70cd65"/><stop offset="0.997" stop-color="#88cb53"/></linearGradient><linearGradient id="r24"><stop offset="0.000" stop-color="#3e26a8"/><stop offset="0.114" stop-color="#3e27a9"/><stop offset="0.136" stop-color="#3f29b1"/><stop offset="0.147" stop-color="#422ebf"/><stop offset="0.158" stop-color="#4536d3"/><stop offset="0.174" stop-color="#463ee1"/><stop offset="0.202" stop-color="#4745e9"/><stop offset="0.234" stop-color="#4759f8"/><stop offset="0.289" stop-color="#4367fd"/><stop offset="0.316" stop-color="#3876fe"/><stop offset="0.332" stop-color="#327dfc"/><stop offset="0.392" stop-color="#2e87f7"/><stop offset="0.447" stop-color="#269ae9"/><stop offset="0.518" stop-color="#21a3e3"/><stop offset="0.561" stop-color="#15afd9"/><stop offset="0.594" stop-color="#0ab4d2"/><stop offset="0.643" stop-color="#03b7cc"/><stop offset="0.670" stop-color="#02bac5"/><stop offset="0.730" stop-color="#23c1af"/><stop offset="0.807" stop-color="#2ec4a5"/><stop offset="0.845" stop-color="#37c898"/><stop offset="0.894" stop-color="#4ecc81"/><stop offset="0.965" stop-color="#65cd6e"/><stop offset="0.997" stop-color="#78cc5f"/></linearGradient><linearGradient id="r25"><stop offset="0.000" stop-color="#3e26a8"/><stop offset="0.114" stop-color="#3e27a9"/><stop offset="0.136" stop-color="#3f28af"/><stop offset="0.147" stop-color="#412dbb"/><stop offset="0.163" stop-color="#4538d7"/><stop offset="0.174" stop-color="#463ddf"/><stop offset="0.207" stop-color="#4745e9"/><stop offset="0.240" stop-color="#4759f8"/><stop offset="0.294" stop-color="#4366fd"/><stop offset="0.322" stop-color="#3876fe"/><stop offset="0.338" stop-color="#327cfc"/><stop offset="0.398" stop-color="#2e86f8"/><stop offset="0.458" stop-color="#269ae8"/><stop offset="0.534" stop-color="#20a5e2"/><stop offset="0.572" stop-color="#15afd8"/><stop offset="0.605" stop-color="#0ab4d2"/><stop offset="0.654" stop-color="#04b6cc"/><stop offset="0.687" stop-color="#02bac4"/><stop offset="0.741" stop-color="#22c1b0"/><stop offset="0.817" stop-color="#2dc4a6"/><stop offset="0.856" stop-color="#34c79b"/><stop offset="0.910" stop-color="#4dcc82"/><stop offset="0.997" stop-color="#6acd6a"/></linearGradient><linearGradient id="r26"><stop offset="0.000" stop-color="#3e26a8"/><stop offset="0.131" stop-color="#3e27ab"/><stop offset="0.147" stop-color="#402bb8"/><stop offset="0.163" stop-color="#4536d3"/><stop offset="0.174" stop-color="#463cde"/><stop offset="0.213" stop-color="#4745e9"/><stop offset="0.245" stop-color="#4759f8"/><stop offset="0.300" stop-color="#4466fd"/><stop offset="0.327" stop-color="#3876fe"/><stop offset="0.349" stop-color="#317efb"/><stop offset="0.409" stop-color="#2e86f7"/><stop offset="0.463" stop-color="#269ae9"/><stop offset="0.534" stop-color="#22a2e4"/><stop offset="0.583" stop-color="#14b0d8"/><stop offset="0.616" stop-color="#0ab4d2"/><stop offset="0.665" stop-color="#04b6cd"/><stop offset="0.698" stop-color="#02bac5"/><stop offset="0.757" stop-color="#23c1af"/><stop offset="0.834" stop-color="#2cc4a6"/><stop offset="0.866" stop-color="#32c69e"/><stop offset="0.932" stop-color="#4fcc81"/><stop offset="0.997" stop-color="#61cd71"/></linearGradient><linearGradient id="r27"><stop offset="0.000" stop-color="#3e26a8"/><stop offset="0.131" stop-color="#3e27aa"/><stop offset="0.147" stop-color="#402ab4"/><stop offset="0.169" stop-color="#4538d7"/><stop offset="0.180" stop-color="#463ddf"/><stop offset="0.218" stop-color="#4745e9"/><stop offset="0.251" stop-color="#4759f8"/><stop offset="0.305" stop-color="#4466fd"/><stop offset="0.332" stop-color="#3875fe"/><stop offset="0.354" stop-color="#317dfb"/><stop offset="0.414" stop-color="#2e85f8"/><stop offset="0.469" stop-color="#2699e9"/><stop offset="0.540" stop-color="#22a1e4"/><stop offset="0.599" stop-color="#12b1d7"/><stop offset="0.638" stop-color="#09b4d1"/><stop offset="0.681" stop-color="#04b6cc"/><stop offset="0.714" stop-color="#02bac4"/><stop offset="0.752" stop-color="#1bc0b4"/><stop offset="0.774" stop-color="#24c1af"/><stop offset="0.850" stop-color="#2cc4a7"/><stop offset="0.883" stop-color="#32c69f"/><stop offset="0.905" stop-color="#38c896"/><stop offset="0.948" stop-color="#4ecc82"/><stop offset="0.997" stop-color="#5ccc76"/></linearGradient><linearGradient id="r28"><stop offset="0.000" stop-color="#3e26a8"/><stop offset="0.136" stop-color="#3e27ab"/><stop offset="0.153" stop-color="#402ab5"/><stop offset="0.174" stop-color="#4538d8"/><stop offset="0.185" stop-color="#463de0"/><stop offset="0.223" stop-color="#4745e9"/><stop offset="0.256" stop-color="#4759f8"/><stop offset="0.311" stop-color="#4465fd"/><stop offset="0.338" stop-color="#3a74fe"/><stop offset="0.360" stop-color="#317dfc"/><stop offset="0.425" stop-color="#2e86f8"/><stop offset="0.485" stop-color="#269ae8"/><stop offset="0.556" stop-color="#22a2e4"/><stop offset="0.605" stop-color="#14b0d8"/><stop offset="0.638" stop-color="#0bb4d2"/><stop offset="0.692" stop-color="#04b6cd"/><stop offset="0.725" stop-color="#02bac5"/><stop offset="0.785" stop-color="#23c1af"/><stop offset="0.866" stop-color="#2cc4a7"/><stop offset="0.899" stop-color="#32c69f"/><stop offset="0.921" stop-color="#38c896"/><stop offset="0.959" stop-color="#4bcb84"/><stop offset="0.997" stop-color="#58cc79"/></linearGradient><linearGradient id="r29"><stop offset="0.000" stop-color="#3e26a8"/><stop offset="0.142" stop-color="#3e27ab"/><stop offset="0.158" stop-color="#402ab5"/><stop offset="0.180" stop-color="#4538d8"/><stop offset="0.191" stop-color="#463de0"/><stop offset="0.229" stop-color="#4744e8"/><stop offset="0.267" stop-color="#475af9"/><stop offset="0.316" stop-color="#4564fd"/><stop offset="0.349" stop-color="#3975fe"/><stop offset="0.371" stop-color="#317dfc"/><stop offset="0.436" stop-color="#2e86f8"/><stop offset="0.496" stop-color="#269ae8"/><stop offset="0.567" stop-color="#22a2e4"/><stop offset="0.616" stop-color="#15afd9"/><stop offset="0.649" stop-color="#0bb3d2"/><stop offset="0.708" stop-color="#04b6cd"/><stop offset="0.741" stop-color="#02bac5"/><stop offset="0.801" stop-color="#23c1af"/><stop offset="0.905" stop-color="#30c5a2"/><stop offset="0.937" stop-color="#39c895"/><stop offset="0.997" stop-color="#54cc7d"/></linearGradient><linearGradient id="r30"><stop offset="0.000" stop-color="#3e26a8"/><stop offset="0.147" stop-color="#3e27aa"/><stop offset="0.163" stop-color="#402ab5"/><stop offset="0.185" stop-color="#4538d8"/><stop offset="0.196" stop-color="#463ddf"/><stop offset="0.234" stop-color="#4744e8"/><stop offset="0.272" stop-color="#475af9"/><stop offset="0.327" stop-color="#4464fd"/><stop offset="0.354" stop-color="#3b72fe"/><stop offset="0.376" stop-color="#327cfc"/><stop offset="0.447" stop-color="#2e86f7"/><stop offset="0.507" stop-color="#269ae8"/><stop offset="0.583" stop-color="#21a3e4"/><stop offset="0.643" stop-color="#10b2d5"/><stop offset="0.741" stop-color="#01b8c9"/><stop offset="0.763" stop-color="#03bbc2"/><stop offset="0.796" stop-color="#19bfb5"/><stop offset="0.817" stop-color="#23c1af"/><stop offset="0.921" stop-color="#30c5a2"/><stop offset="0.948" stop-color="#37c898"/><stop offset="0.997" stop-color="#4ecc81"/></linearGradient><linearGradient id="r31"><stop offset="0.000" stop-color="#3e26a8"/><stop offset="0.153" stop-color="#3e27aa"/><stop offset="0.169" stop-color="#402ab5"/><stop offset="0.191" stop-color="#4538d7"/><stop offset="0.202" stop-color="#463ddf"/><stop offset="0.240" stop-color="#4743e7"/><stop offset="0.278" stop-color="#4759f8"/><stop offset="0.332" stop-color="#4563fd"/><stop offset="0.360" stop-color="#3d70ff"/><stop offset="0.387" stop-color="#317dfc"/><stop offset="0.452" stop-color="#2e85f8"/><stop offset="0.518" stop-color="#269ae8"/><stop offset="0.594" stop-color="#22a2e4"/><stop offset="0.654" stop-color="#11b1d6"/><stop offset="0.681" stop-color="#0ab4d1"/><stop offset="0.757" stop-color="#01b8c9"/><stop offset="0.779" stop-color="#03bbc2"/><stop offset="0.812" stop-color="#1ac0b5"/><stop offset="0.834" stop-color="#23c1af"/><stop offset="0.932" stop-color="#2fc5a3"/><stop offset="0.965" stop-color="#37c897"/><stop offset="0.997" stop-color="#47cb87"/></linearGradient><linearGradient id="r32"><stop offset="0.000" stop-color="#3e26a8"/><stop offset="0.158" stop-color="#3e27aa"/><stop offset="0.174" stop-color="#402ab5"/><stop offset="0.196" stop-color="#4538d7"/><stop offset="0.207" stop-color="#463ddf"/><stop offset="0.251" stop-color="#4745e9"/><stop offset="0.289" stop-color="#475bf9"/><stop offset="0.343" stop-color="#4563fd"/><stop offset="0.371" stop-color="#3c71ff"/><stop offset="0.398" stop-color="#317dfc"/><stop offset="0.463" stop-color="#2e85f8"/><stop offset="0.529" stop-color="#269ae8"/><stop offset="0.605" stop-color="#22a2e4"/><stop offset="0.670" stop-color="#10b2d5"/><stop offset="0.774" stop-color="#01b8c9"/><stop offset="0.796" stop-color="#04bbc2"/><stop offset="0.828" stop-color="#1ac0b4"/><stop offset="0.850" stop-color="#24c1af"/><stop offset="0.943" stop-color="#2ec4a4"/><stop offset="0.997" stop-color="#3eca8f"/></linearGradient><linearGradient id="r33"><stop offset="0.000" stop-color="#3e26a8"/><stop offset="0.163" stop-color="#3e27aa"/><stop offset="0.180" stop-color="#402ab5"/><stop offset="0.202" stop-color="#4538d7"/><stop offset="0.213" stop-color="#463ddf"/><stop offset="0.256" stop-color="#4744e8"/><stop offset="0.294" stop-color="#475af9"/><stop offset="0.349" stop-color="#4562fc"/><stop offset="0.381" stop-color="#3c72ff"/><stop offset="0.403" stop-color="#327cfc"/><stop offset="0.474" stop-color="#2e85f8"/><stop offset="0.540" stop-color="#269ae8"/><stop offset="0.621" stop-color="#21a2e4"/><stop offset="0.681" stop-color="#10b2d5"/><stop offset="0.708" stop-color="#0ab4d1"/><stop offset="0.790" stop-color="#01b8c9"/><stop offset="0.807" stop-color="#02bac4"/><stop offset="0.845" stop-color="#1bc0b4"/><stop offset="0.866" stop-color="#24c1af"/><stop offset="0.954" stop-color="#2dc4a5"/><stop offset="0.997" stop-color="#38c896"/></linearGradient><linearGradient id="r34"><stop offset="0.000" stop-color="#3e26a8"/><stop offset="0.169" stop-color="#3e27aa"/><stop offset="0.185" stop-color="#402ab4"/><stop offset="0.207" stop-color="#4538d7"/><stop offset="0.218" stop-color="#463ddf"/><stop offset="0.262" stop-color="#4744e8"/><stop offset="0.300" stop-color="#475af9"/><stop offset="0.360" stop-color="#4563fc"/><stop offset="0.387" stop-color="#3e70ff"/><stop offset="0.414" stop-color="#327cfc"/><stop offset="0.485" stop-color="#2e85f8"/><stop offset="0.550" stop-color="#269ae8"/><stop offset="0.632" stop-color="#22a2e4"/><stop offset="0.698" stop-color="#0fb2d5"/><stop offset="0.801" stop-color="#01b8ca"/><stop offset="0.823" stop-color="#02bac3"/><stop offset="0.861" stop-color="#1bc0b4"/><stop offset="0.883" stop-color="#24c1ae"/><stop offset="0.959" stop-color="#2cc4a7"/><stop offset="0.997" stop-color="#33c69d"/></linearGradient><linearGradient id="r35"><stop offset="0.000" stop-color="#3e26a8"/><stop offset="0.174" stop-color="#3e27aa"/><stop offset="0.191" stop-color="#402ab4"/><stop offset="0.213" stop-color="#4538d7"/><stop offset="0.223" stop-color="#463ddf"/><stop offset="0.267" stop-color="#4743e7"/><stop offset="0.311" stop-color="#475bf9"/><stop offset="0.371" stop-color="#4563fd"/><stop offset="0.398" stop-color="#3d70ff"/><stop offset="0.425" stop-color="#317dfc"/><stop offset="0.496" stop-color="#2e85f8"/><stop offset="0.561" stop-color="#269ae8"/><stop offset="0.643" stop-color="#22a2e4"/><stop offset="0.708" stop-color="#10b2d5"/><stop offset="0.817" stop-color="#01b8ca"/><stop offset="0.839" stop-color="#02bbc3"/><stop offset="0.872" stop-color="#19bfb6"/><stop offset="0.899" stop-color="#24c1ae"/><stop offset="0.997" stop-color="#2fc5a2"/></linearGradient><linearGradient id="r36"><stop offset="0.000" stop-color="#3e26a8"/><stop offset="0.180" stop-color="#3e27aa"/><stop offset="0.196" stop-color="#402ab4"/><stop offset="0.218" stop-color="#4538d7"/><stop offset="0.229" stop-color="#463cdf"/><stop offset="0.272" stop-color="#4743e7"/><stop offset="0.316" stop-color="#475af9"/><stop offset="0.376" stop-color="#4562fc"/><stop offset="0.409" stop-color="#3c71ff"/><stop offset="0.436" stop-color="#317dfc"/><stop offset="0.507" stop-color="#2e85f8"/><stop offset="0.572" stop-color="#269be8"/><stop offset="0.654" stop-color="#22a1e4"/><stop offset="0.719" stop-color="#10b2d5"/><stop offset="0.747" stop-color="#0ab4d2"/><stop offset="0.834" stop-color="#01b8ca"/><stop offset="0.856" stop-color="#03bbc3"/><stop offset="0.888" stop-color="#19bfb5"/><stop offset="0.910" stop-color="#23c1af"/><stop offset="0.997" stop-color="#2dc4a6"/></linearGradient><linearGradient id="r37"><stop offset="0.000" stop-color="#3e26a8"/><stop offset="0.185" stop-color="#3e27aa"/><stop offset="0.202" stop-color="#402ab4"/><stop offset="0.223" stop-color="#4537d7"/><stop offset="0.234" stop-color="#463cdf"/><stop offset="0.283" stop-color="#4744e8"/><stop offset="0.322" stop-color="#475af9"/><stop offset="0.387" stop-color="#4563fc"/><stop offset="0.414" stop-color="#3e6fff"/><stop offset="0.441" stop-color="#327cfc"/><stop offset="0.518" stop-color="#2e85f8"/><stop offset="0.583" stop-color="#269be8"/><stop offset="0.670" stop-color="#22a2e4"/><stop offset="0.736" stop-color="#0fb2d5"/><stop offset="0.850" stop-color="#01b8c9"/><stop offset="0.872" stop-color="#03bbc2"/><stop offset="0.905" stop-color="#1abfb5"/><stop offset="0.926" stop-color="#23c1af"/><stop offset="0.997" stop-color="#2bc3a8"/></linearGradient><linearGradient id="r38"><stop offset="0.000" stop-color="#3e26a8"/><stop offset="0.191" stop-color="#3e27aa"/><stop offset="0.207" stop-color="#402ab4"/><stop offset="0.229" stop-color="#4537d6"/><stop offset="0.240" stop-color="#463cdf"/><stop offset="0.289" stop-color="#4743e8"/><stop offset="0.327" stop-color="#4759f9"/><stop offset="0.392" stop-color="#4562fc"/><stop offset="0.425" stop-color="#3d70ff"/><stop offset="0.452" stop-color="#317dfc"/><stop offset="0.523" stop-color="#2e84f9"/><stop offset="0.594" stop-color="#269be8"/><stop offset="0.681" stop-color="#22a2e4"/><stop offset="0.747" stop-color="#10b2d5"/><stop offset="0.774" stop-color="#0ab4d1"/><stop offset="0.866" stop-color="#01b8c9"/><stop offset="0.888" stop-color="#04bbc2"/><stop offset="0.921" stop-color="#1ac0b5"/><stop offset="0.943" stop-color="#23c1af"/><stop offset="0.997" stop-color="#2ac3a9"/></linearGradient><linearGradient id="r39"><stop offset="0.000" stop-color="#3e26a8"/><stop offset="0.196" stop-color="#3e27aa"/><stop offset="0.213" stop-color="#402ab4"/><stop offset="0.234" stop-color="#4537d6"/><stop offset="0.245" stop-color="#463cdf"/><stop offset="0.294" stop-color="#4743e7"/><stop offset="0.338" stop-color="#475bf9"/><stop offset="0.403" stop-color="#4562fc"/><stop offset="0.436" stop-color="#3c71ff"/><stop offset="0.463" stop-color="#317dfc"/><stop offset="0.534" stop-color="#2e84f9"/><stop offset="0.605" stop-color="#269be8"/><stop offset="0.692" stop-color="#22a1e4"/><stop offset="0.763" stop-color="#0fb2d4"/><stop offset="0.883" stop-color="#01b8c9"/><stop offset="0.905" stop-color="#04bbc2"/><stop offset="0.937" stop-color="#1ac0b4"/><stop offset="0.954" stop-color="#22c1b0"/><stop offset="0.997" stop-color="#28c3aa"/></linearGradient><linearGradient id="r40"><stop offset="0.000" stop-color="#3e26a8"/><stop offset="0.202" stop-color="#3e27aa"/><stop offset="0.218" stop-color="#402ab4"/><stop offset="0.240" stop-color="#4537d6"/><stop offset="0.251" stop-color="#463cdf"/><stop offset="0.300" stop-color="#4743e7"/><stop offset="0.343" stop-color="#475af9"/><stop offset="0.409" stop-color="#4561fc"/><stop offset="0.441" stop-color="#3f6fff"/><stop offset="0.469" stop-color="#327cfc"/><stop offset="0.545" stop-color="#2e84f8"/><stop offset="0.616" stop-color="#269be8"/><stop offset="0.708" stop-color="#22a2e4"/><stop offset="0.774" stop-color="#0fb2d5"/><stop offset="0.801" stop-color="#0ab4d1"/><stop offset="0.894" stop-color="#01b8ca"/><stop offset="0.916" stop-color="#02bac3"/><stop offset="0.959" stop-color="#1ec0b2"/><stop offset="0.997" stop-color="#27c2ac"/></linearGradient><linearGradient id="r41"><stop offset="0.000" stop-color="#3e26a8"/><stop offset="0.207" stop-color="#3e27aa"/><stop offset="0.223" stop-color="#402ab3"/><stop offset="0.245" stop-color="#4537d6"/><stop offset="0.256" stop-color="#463cdf"/><stop offset="0.311" stop-color="#4743e7"/><stop offset="0.354" stop-color="#475bf9"/><stop offset="0.420" stop-color="#4561fc"/><stop offset="0.452" stop-color="#3e6fff"/><stop offset="0.480" stop-color="#327cfc"/><stop offset="0.561" stop-color="#2e85f8"/><stop offset="0.627" stop-color="#269ae8"/><stop offset="0.719" stop-color="#22a2e4"/><stop offset="0.785" stop-color="#10b2d5"/><stop offset="0.812" stop-color="#0ab4d1"/><stop offset="0.910" stop-color="#01b8c9"/><stop offset="0.932" stop-color="#03bbc2"/><stop offset="0.970" stop-color="#1cc0b3"/><stop offset="0.997" stop-color="#25c2ad"/></linearGradient><linearGradient id="r42"><stop offset="0.000" stop-color="#3e26a8"/><stop offset="0.213" stop-color="#3e27aa"/><stop offset="0.229" stop-color="#402ab3"/><stop offset="0.251" stop-color="#4537d5"/><stop offset="0.262" stop-color="#463cdf"/><stop offset="0.316" stop-color="#4742e7"/><stop offset="0.360" stop-color="#475af9"/><stop offset="0.431" stop-color="#4562fc"/><stop offset="0.463" stop-color="#3e70ff"/><stop offset="0.490" stop-color="#327cfc"/><stop offset="0.572" stop-color="#2e84f8"/><stop offset="0.638" stop-color="#269ae8"/><stop offset="0.730" stop-color="#22a1e4"/><stop offset="0.763" stop-color="#1caadf"/><stop offset="0.801" stop-color="#0fb2d4"/><stop offset="0.921" stop-color="#01b8ca"/><stop offset="0.943" stop-color="#02bbc3"/><stop offset="0.975" stop-color="#18bfb6"/><stop offset="0.997" stop-color="#22c1af"/></linearGradient><linearGradient id="r43"><stop offset="0.000" stop-color="#3e26a8"/><stop offset="0.218" stop-color="#3e27aa"/><stop offset="0.234" stop-color="#3f29b2"/><stop offset="0.256" stop-color="#4537d5"/><stop offset="0.272" stop-color="#463de0"/><stop offset="0.327" stop-color="#4743e7"/><stop offset="0.371" stop-color="#475bf9"/><stop offset="0.441" stop-color="#4562fc"/><stop offset="0.474" stop-color="#3d70ff"/><stop offset="0.501" stop-color="#317dfc"/><stop offset="0.583" stop-color="#2e84f9"/><stop offset="0.654" stop-color="#269be8"/><stop offset="0.747" stop-color="#22a2e4"/><stop offset="0.796" stop-color="#15afd9"/><stop offset="0.828" stop-color="#0bb3d2"/><stop offset="0.937" stop-color="#01b8c9"/><stop offset="0.959" stop-color="#04bbc2"/><stop offset="0.997" stop-color="#1dc0b3"/></linearGradient><linearGradient id="r44"><stop offset="0.000" stop-color="#3e26a8"/><stop offset="0.223" stop-color="#3e27aa"/><stop offset="0.240" stop-color="#3f29b2"/><stop offset="0.262" stop-color="#4536d4"/><stop offset="0.278" stop-color="#463de0"/><stop offset="0.332" stop-color="#4742e6"/><stop offset="0.365" stop-color="#4755f6"/><stop offset="0.381" stop-color="#475cfa"/><stop offset="0.452" stop-color="#4562fc"/><stop offset="0.485" stop-color="#3d71ff"/><stop offset="0.512" stop-color="#317dfc"/><stop offset="0.599" stop-color="#2e84f8"/><stop offset="0.665" stop-color="#269ae8"/><stop offset="0.757" stop-color="#22a1e4"/><stop offset="0.828" stop-color="#0eb2d4"/><stop offset="0.948" stop-color="#01b8ca"/><stop offset="0.970" stop-color="#03bbc3"/><stop offset="0.997" stop-color="#15bfb7"/></linearGradient><linearGradient id="r45"><stop offset="0.000" stop-color="#3e26a8"/><stop offset="0.229" stop-color="#3e27aa"/><stop offset="0.245" stop-color="#3f29b2"/><stop offset="0.267" stop-color="#4536d4"/><stop offset="0.283" stop-color="#463de0"/><stop offset="0.343" stop-color="#4743e7"/><stop offset="0.387" stop-color="#475bf9"/><stop offset="0.458" stop-color="#4561fc"/><stop offset="0.490" stop-color="#3f6efe"/><stop offset="0.523" stop-color="#317dfc"/><stop offset="0.610" stop-color="#2e84f8"/><stop offset="0.681" stop-color="#259be8"/><stop offset="0.768" stop-color="#22a1e4"/><stop offset="0.801" stop-color="#1ca9df"/><stop offset="0.839" stop-color="#0fb2d5"/><stop offset="0.959" stop-color="#01b8ca"/><stop offset="0.981" stop-color="#02bac3"/><stop offset="0.997" stop-color="#0bbdbd"/></linearGradient><linearGradient id="r46"><stop offset="0.000" stop-color="#3e26a8"/><stop offset="0.234" stop-color="#3e27aa"/><stop offset="0.251" stop-color="#3f29b1"/><stop offset="0.272" stop-color="#4536d3"/><stop offset="0.289" stop-color="#463de0"/><stop offset="0.349" stop-color="#4742e6"/><stop offset="0.381" stop-color="#4755f6"/><stop offset="0.398" stop-color="#475cfa"/><stop offset="0.469" stop-color="#4561fc"/><stop offset="0.501" stop-color="#3f6eff"/><stop offset="0.534" stop-color="#317dfc"/><stop offset="0.621" stop-color="#2e84f9"/><stop offset="0.692" stop-color="#269ae8"/><stop offset="0.796" stop-color="#20a4e3"/><stop offset="0.839" stop-color="#14b0d8"/><stop offset="0.872" stop-color="#0ab4d2"/><stop offset="0.954" stop-color="#04b6cd"/><stop offset="0.975" stop-color="#01b8c9"/><stop offset="0.997" stop-color="#03bbc2"/></linearGradient><linearGradient id="r47"><stop offset="0.000" stop-color="#3e26a8"/><stop offset="0.240" stop-color="#3e27aa"/><stop offset="0.256" stop-color="#3f29b1"/><stop offset="0.283" stop-color="#4639d9"/><stop offset="0.294" stop-color="#463de0"/><stop offset="0.360" stop-color="#4743e7"/><stop offset="0.403" stop-color="#475bf9"/><stop offset="0.480" stop-color="#4561fc"/><stop offset="0.512" stop-color="#3e6fff"/><stop offset="0.545" stop-color="#317dfc"/><stop offset="0.632" stop-color="#2e83f9"/><stop offset="0.708" stop-color="#259be8"/><stop offset="0.796" stop-color="#22a1e4"/><stop offset="0.850" stop-color="#14b0d8"/><stop offset="0.883" stop-color="#0bb3d2"/><stop offset="0.959" stop-color="#05b6ce"/><stop offset="0.997" stop-color="#01b9c7"/></linearGradient><linearGradient id="r48"><stop offset="0.000" stop-color="#3e26a8"/><stop offset="0.245" stop-color="#3e27aa"/><stop offset="0.262" stop-color="#3f29b1"/><stop offset="0.289" stop-color="#4539d9"/><stop offset="0.300" stop-color="#463de0"/><stop offset="0.365" stop-color="#4742e6"/><stop offset="0.414" stop-color="#475bfa"/><stop offset="0.490" stop-color="#4562fc"/><stop offset="0.523" stop-color="#3e6fff"/><stop offset="0.550" stop-color="#327cfc"/><stop offset="0.649" stop-color="#2e84f9"/><stop offset="0.719" stop-color="#269be8"/><stop offset="0.812" stop-color="#22a2e4"/><stop offset="0.877" stop-color="#0fb2d5"/><stop offset="0.905" stop-color="#0ab4d1"/><stop offset="0.997" stop-color="#01b7ca"/></linearGradient><linearGradient id="r49"><stop offset="0.000" stop-color="#3e26a8"/><stop offset="0.251" stop-color="#3e27aa"/><stop offset="0.267" stop-color="#3f29b0"/><stop offset="0.278" stop-color="#412ebe"/><stop offset="0.294" stop-color="#4539d8"/><stop offset="0.305" stop-color="#463de0"/><stop offset="0.376" stop-color="#4743e7"/><stop offset="0.420" stop-color="#475bf9"/><stop offset="0.501" stop-color="#4562fc"/><stop offset="0.534" stop-color="#3e70ff"/><stop offset="0.561" stop-color="#327cfc"/><stop offset="0.659" stop-color="#2e83f9"/><stop offset="0.730" stop-color="#269ae8"/><stop offset="0.823" stop-color="#22a2e4"/><stop offset="0.877" stop-color="#14b0d8"/><stop offset="0.910" stop-color="#0bb4d2"/><stop offset="0.997" stop-color="#04b6cd"/></linearGradient><linearGradient id="r50"><stop offset="0.000" stop-color="#3e26a8"/><stop offset="0.256" stop-color="#3e27aa"/><stop offset="0.272" stop-color="#3f29b0"/><stop offset="0.283" stop-color="#412dbd"/><stop offset="0.300" stop-color="#4538d8"/><stop offset="0.311" stop-color="#463ddf"/><stop offset="0.381" stop-color="#4742e6"/><stop offset="0.431" stop-color="#475bfa"/><stop offset="0.512" stop-color="#4562fc"/><stop offset="0.545" stop-color="#3d70ff"/><stop offset="0.572" stop-color="#317dfc"/><stop offset="0.676" stop-color="#2e84f8"/><stop offset="0.747" stop-color="#259be8"/><stop offset="0.834" stop-color="#22a1e4"/><stop offset="0.899" stop-color="#11b1d6"/><stop offset="0.932" stop-color="#09b4d1"/><stop offset="0.997" stop-color="#05b6ce"/></linearGradient><linearGradient id="r51"><stop offset="0.000" stop-color="#3e26a8"/><stop offset="0.262" stop-color="#3e27aa"/><stop offset="0.278" stop-color="#3f29b0"/><stop offset="0.289" stop-color="#412dbd"/><stop offset="0.305" stop-color="#4538d8"/><stop offset="0.316" stop-color="#463ddf"/><stop offset="0.392" stop-color="#4743e7"/><stop offset="0.425" stop-color="#4755f6"/><stop offset="0.452" stop-color="#465efb"/><stop offset="0.523" stop-color="#4562fc"/><stop offset="0.545" stop-color="#426afe"/><stop offset="0.572" stop-color="#3479fd"/><stop offset="0.589" stop-color="#317efb"/><stop offset="0.681" stop-color="#2e83f9"/><stop offset="0.757" stop-color="#269ae8"/><stop offset="0.850" stop-color="#22a2e4"/><stop offset="0.916" stop-color="#10b2d5"/><stop offset="0.943" stop-color="#0ab4d1"/><stop offset="0.997" stop-color="#06b5cf"/></linearGradient><linearGradient id="r52"><stop offset="0.000" stop-color="#3e26a8"/><stop offset="0.272" stop-color="#3e27aa"/><stop offset="0.289" stop-color="#402ab5"/><stop offset="0.311" stop-color="#4538d7"/><stop offset="0.322" stop-color="#463ddf"/><stop offset="0.398" stop-color="#4742e6"/><stop offset="0.436" stop-color="#4757f7"/><stop offset="0.463" stop-color="#465efb"/><stop offset="0.534" stop-color="#4562fc"/><stop offset="0.556" stop-color="#416bfe"/><stop offset="0.583" stop-color="#347afd"/><stop offset="0.599" stop-color="#317efb"/><stop offset="0.698" stop-color="#2e83f9"/><stop offset="0.768" stop-color="#269ae8"/><stop offset="0.861" stop-color="#22a1e4"/><stop offset="0.926" stop-color="#10b2d5"/><stop offset="0.954" stop-color="#0ab4d2"/><stop offset="0.997" stop-color="#07b5d0"/></linearGradient><linearGradient id="r53"><stop offset="0.000" stop-color="#3e26a8"/><stop offset="0.278" stop-color="#3e27aa"/><stop offset="0.294" stop-color="#402ab4"/><stop offset="0.316" stop-color="#4538d7"/><stop offset="0.327" stop-color="#463cdf"/><stop offset="0.409" stop-color="#4742e7"/><stop offset="0.441" stop-color="#4755f6"/><stop offset="0.469" stop-color="#465efb"/><stop offset="0.545" stop-color="#4562fc"/><stop offset="0.567" stop-color="#416bfe"/><stop offset="0.594" stop-color="#347afd"/><stop offset="0.610" stop-color="#317efb"/><stop offset="0.708" stop-color="#2e83f9"/><stop offset="0.779" stop-color="#269ae9"/><stop offset="0.877" stop-color="#22a2e4"/><stop offset="0.937" stop-color="#11b1d6"/><stop offset="0.959" stop-color="#0bb3d2"/><stop offset="0.997" stop-color="#08b5d0"/></linearGradient><linearGradient id="r54"><stop offset="0.000" stop-color="#3e26a8"/><stop offset="0.283" stop-color="#3e27aa"/><stop offset="0.300" stop-color="#402ab3"/><stop offset="0.322" stop-color="#4537d5"/><stop offset="0.332" stop-color="#463cde"/><stop offset="0.414" stop-color="#4741e5"/><stop offset="0.431" stop-color="#4847ec"/><stop offset="0.452" stop-color="#4756f6"/><stop offset="0.480" stop-color="#465efb"/><stop offset="0.556" stop-color="#4562fc"/><stop offset="0.578" stop-color="#426afe"/><stop offset="0.605" stop-color="#3479fd"/><stop offset="0.621" stop-color="#317efb"/><stop offset="0.719" stop-color="#2e83f9"/><stop offset="0.790" stop-color="#269ae9"/><stop offset="0.888" stop-color="#22a2e4"/><stop offset="0.948" stop-color="#12b1d6"/><stop offset="0.997" stop-color="#08b4d1"/></linearGradient><linearGradient id="r55"><stop offset="0.000" stop-color="#3e26a8"/><stop offset="0.289" stop-color="#3e27aa"/><stop offset="0.305" stop-color="#3f29b1"/><stop offset="0.327" stop-color="#4536d3"/><stop offset="0.338" stop-color="#463cde"/><stop offset="0.425" stop-color="#4742e6"/><stop offset="0.463" stop-color="#4757f7"/><stop offset="0.490" stop-color="#465efb"/><stop offset="0.572" stop-color="#4563fc"/><stop offset="0.589" stop-color="#4269fe"/><stop offset="0.616" stop-color="#3578fd"/><stop offset="0.638" stop-color="#317efb"/><stop offset="0.730" stop-color="#2e83f9"/><stop offset="0.801" stop-color="#2699e9"/><stop offset="0.899" stop-color="#22a2e4"/><stop offset="0.954" stop-color="#14b0d8"/><stop offset="0.997" stop-color="#09b4d1"/></linearGradient><linearGradient id="r56"><stop offset="0.000" stop-color="#3e26a8"/><stop offset="0.294" stop-color="#3e27aa"/><stop offset="0.311" stop-color="#3f29b0"/><stop offset="0.338" stop-color="#4539d8"/><stop offset="0.349" stop-color="#463de0"/><stop offset="0.436" stop-color="#4742e6"/><stop offset="0.474" stop-color="#4757f7"/><stop offset="0.496" stop-color="#465dfb"/><stop offset="0.583" stop-color="#4562fc"/><stop offset="0.605" stop-color="#416bfe"/><stop offset="0.632" stop-color="#347afd"/><stop offset="0.649" stop-color="#317efb"/><stop offset="0.741" stop-color="#2e83f9"/><stop offset="0.812" stop-color="#2699e9"/><stop offset="0.916" stop-color="#22a2e4"/><stop offset="0.965" stop-color="#14b0d8"/><stop offset="0.997" stop-color="#0bb3d2"/></linearGradient><linearGradient id="r57"><stop offset="0.000" stop-color="#3e26a8"/><stop offset="0.300" stop-color="#3e27a9"/><stop offset="0.311" stop-color="#3e28ac"/><stop offset="0.322" stop-color="#402ab5"/><stop offset="0.343" stop-color="#4538d7"/><stop offset="0.354" stop-color="#463cdf"/><stop offset="0.441" stop-color="#4741e5"/><stop offset="0.458" stop-color="#4746eb"/><stop offset="0.485" stop-color="#4758f8"/><stop offset="0.507" stop-color="#465dfb"/><stop offset="0.589" stop-color="#4561fc"/><stop offset="0.616" stop-color="#426afe"/><stop offset="0.654" stop-color="#327dfc"/><stop offset="0.752" stop-color="#2e83f9"/><stop offset="0.828" stop-color="#269ae8"/><stop offset="0.926" stop-color="#22a2e4"/><stop offset="0.997" stop-color="#0eb3d4"/></linearGradient><linearGradient id="r58"><stop offset="0.000" stop-color="#3e26a8"/><stop offset="0.311" stop-color="#3e27aa"/><stop offset="0.327" stop-color="#402ab3"/><stop offset="0.349" stop-color="#4537d6"/><stop offset="0.360" stop-color="#463cdf"/><stop offset="0.452" stop-color="#4741e5"/><stop offset="0.469" stop-color="#4747eb"/><stop offset="0.490" stop-color="#4755f6"/><stop offset="0.518" stop-color="#465efb"/><stop offset="0.605" stop-color="#4561fc"/><stop offset="0.627" stop-color="#4369fe"/><stop offset="0.654" stop-color="#3678fd"/><stop offset="0.670" stop-color="#317dfc"/><stop offset="0.763" stop-color="#2e83f9"/><stop offset="0.839" stop-color="#269ae8"/><stop offset="0.932" stop-color="#23a1e4"/><stop offset="0.997" stop-color="#12b1d6"/></linearGradient><linearGradient id="r59"><stop offset="0.000" stop-color="#3e26a8"/><stop offset="0.316" stop-color="#3e27aa"/><stop offset="0.332" stop-color="#3f29b2"/><stop offset="0.354" stop-color="#4536d4"/><stop offset="0.365" stop-color="#463cde"/><stop offset="0.463" stop-color="#4742e6"/><stop offset="0.480" stop-color="#4848ec"/><stop offset="0.501" stop-color="#4756f7"/><stop offset="0.529" stop-color="#465efb"/><stop offset="0.616" stop-color="#4561fc"/><stop offset="0.643" stop-color="#426afe"/><stop offset="0.681" stop-color="#317dfc"/><stop offset="0.774" stop-color="#2e83f9"/><stop offset="0.845" stop-color="#2699e9"/><stop offset="0.943" stop-color="#23a1e5"/><stop offset="0.997" stop-color="#16afd9"/></linearGradient><linearGradient id="r60"><stop offset="0.000" stop-color="#3e26a8"/><stop offset="0.322" stop-color="#3e27aa"/><stop offset="0.338" stop-color="#3f29b1"/><stop offset="0.365" stop-color="#4539d9"/><stop offset="0.376" stop-color="#463de0"/><stop offset="0.474" stop-color="#4742e6"/><stop offset="0.512" stop-color="#4757f7"/><stop offset="0.534" stop-color="#465dfa"/><stop offset="0.627" stop-color="#4661fc"/><stop offset="0.654" stop-color="#4269fe"/><stop offset="0.692" stop-color="#327cfc"/><stop offset="0.785" stop-color="#2f83f9"/><stop offset="0.856" stop-color="#2699e9"/><stop offset="0.954" stop-color="#23a0e5"/><stop offset="0.997" stop-color="#1aabdd"/></linearGradient><linearGradient id="r61"><stop offset="0.000" stop-color="#3e26a8"/><stop offset="0.327" stop-color="#3e27a9"/><stop offset="0.338" stop-color="#3e28ac"/><stop offset="0.349" stop-color="#402ab5"/><stop offset="0.371" stop-color="#4538d7"/><stop offset="0.381" stop-color="#463ddf"/><stop offset="0.480" stop-color="#4741e5"/><stop offset="0.496" stop-color="#4746ea"/><stop offset="0.523" stop-color="#4757f7"/><stop offset="0.545" stop-color="#465dfb"/><stop offset="0.643" stop-color="#4561fc"/><stop offset="0.665" stop-color="#4368fe"/><stop offset="0.708" stop-color="#317dfc"/><stop offset="0.790" stop-color="#2f82fa"/><stop offset="0.817" stop-color="#2e87f7"/><stop offset="0.872" stop-color="#269ae8"/><stop offset="0.959" stop-color="#23a0e5"/><stop offset="0.997" stop-color="#1ea8e1"/></linearGradient><linearGradient id="r62"><stop offset="0.000" stop-color="#3e26a8"/><stop offset="0.332" stop-color="#3e27a9"/><stop offset="0.343" stop-color="#3e27ac"/><stop offset="0.354" stop-color="#402ab3"/><stop offset="0.376" stop-color="#4537d6"/><stop offset="0.387" stop-color="#463cdf"/><stop offset="0.490" stop-color="#4741e5"/><stop offset="0.507" stop-color="#4747eb"/><stop offset="0.534" stop-color="#4758f8"/><stop offset="0.556" stop-color="#465dfb"/><stop offset="0.654" stop-color="#4561fc"/><stop offset="0.681" stop-color="#426afe"/><stop offset="0.708" stop-color="#3479fd"/><stop offset="0.725" stop-color="#317efb"/><stop offset="0.812" stop-color="#2e83f9"/><stop offset="0.883" stop-color="#269ae9"/><stop offset="0.997" stop-color="#20a4e3"/></linearGradient><linearGradient id="r63"><stop offset="0.000" stop-color="#3e26a8"/><stop offset="0.343" stop-color="#3e27aa"/><stop offset="0.360" stop-color="#3f29b2"/><stop offset="0.381" stop-color="#4536d4"/><stop offset="0.392" stop-color="#463cde"/><stop offset="0.501" stop-color="#4741e5"/><stop offset="0.518" stop-color="#4747eb"/><stop offset="0.540" stop-color="#4756f6"/><stop offset="0.561" stop-color="#465dfa"/><stop offset="0.670" stop-color="#4561fc"/><stop offset="0.692" stop-color="#4269fe"/><stop offset="0.719" stop-color="#3578fd"/><stop offset="0.736" stop-color="#317dfc"/><stop offset="0.828" stop-color="#2e84f8"/><stop offset="0.899" stop-color="#259be8"/><stop offset="0.997" stop-color="#22a1e4"/></linearGradient><linearGradient id="r64"><stop offset="0.000" stop-color="#3e26a8"/><stop offset="0.349" stop-color="#3e27aa"/><stop offset="0.365" stop-color="#3f29b1"/><stop offset="0.392" stop-color="#4539d9"/><stop offset="0.403" stop-color="#463de0"/><stop offset="0.512" stop-color="#4742e6"/><stop offset="0.529" stop-color="#4848ec"/><stop offset="0.550" stop-color="#4756f7"/><stop offset="0.572" stop-color="#465dfa"/><stop offset="0.681" stop-color="#4561fc"/><stop offset="0.708" stop-color="#416bfe"/><stop offset="0.747" stop-color="#317dfc"/><stop offset="0.839" stop-color="#2e84f8"/><stop offset="0.910" stop-color="#259be8"/><stop offset="0.997" stop-color="#23a0e5"/></linearGradient><linearGradient id="r65"><stop offset="0.000" stop-color="#3e26a8"/><stop offset="0.354" stop-color="#3e27aa"/><stop offset="0.371" stop-color="#3f29b0"/><stop offset="0.381" stop-color="#412dbd"/><stop offset="0.398" stop-color="#4538d8"/><stop offset="0.409" stop-color="#463ddf"/><stop offset="0.518" stop-color="#4741e5"/><stop offset="0.534" stop-color="#4746ea"/><stop offset="0.561" stop-color="#4757f7"/><stop offset="0.583" stop-color="#465dfb"/><stop offset="0.692" stop-color="#4561fc"/><stop offset="0.719" stop-color="#426afe"/><stop offset="0.747" stop-color="#3579fd"/><stop offset="0.763" stop-color="#317efb"/><stop offset="0.850" stop-color="#2e84f8"/><stop offset="0.921" stop-color="#269be8"/><stop offset="0.997" stop-color="#249fe6"/></linearGradient><linearGradient id="r66"><stop offset="0.000" stop-color="#3e26a8"/><stop offset="0.360" stop-color="#3e27a9"/><stop offset="0.371" stop-color="#3e27ac"/><stop offset="0.381" stop-color="#402ab4"/><stop offset="0.403" stop-color="#4537d6"/><stop offset="0.414" stop-color="#463cdf"/><stop offset="0.529" stop-color="#4741e5"/><stop offset="0.545" stop-color="#4747eb"/><stop offset="0.572" stop-color="#4758f8"/><stop offset="0.594" stop-color="#465dfb"/><stop offset="0.708" stop-color="#4561fc"/><stop offset="0.730" stop-color="#4269fe"/><stop offset="0.757" stop-color="#3578fd"/><stop offset="0.774" stop-color="#317dfb"/><stop offset="0.856" stop-color="#2e83f9"/><stop offset="0.926" stop-color="#269ae9"/><stop offset="0.997" stop-color="#249ee6"/></linearGradient><linearGradient id="r67"><stop offset="0.000" stop-color="#3e26a8"/><stop offset="0.371" stop-color="#3e27aa"/><stop offset="0.387" stop-color="#3f29b1"/><stop offset="0.409" stop-color="#4536d3"/><stop offset="0.425" stop-color="#463de0"/><stop offset="0.534" stop-color="#4741e5"/><stop offset="0.550" stop-color="#4746ea"/><stop offset="0.578" stop-color="#4757f7"/><stop offset="0.599" stop-color="#465dfb"/><stop offset="0.714" stop-color="#4561fc"/><stop offset="0.736" stop-color="#4368fe"/><stop offset="0.779" stop-color="#317dfc"/><stop offset="0.861" stop-color="#2e83f9"/><stop offset="0.932" stop-color="#2699e9"/><stop offset="0.997" stop-color="#249ee6"/></linearGradient><linearGradient id="r68"><stop offset="0.000" stop-color="#3e26a8"/><stop offset="0.354" stop-color="#3e26a8"/><stop offset="0.387" stop-color="#3e28ac"/><stop offset="0.398" stop-color="#402ab5"/><stop offset="0.420" stop-color="#4538d7"/><stop offset="0.431" stop-color="#463ddf"/><stop offset="0.545" stop-color="#4742e6"/><stop offset="0.561" stop-color="#4848ec"/><stop offset="0.583" stop-color="#4756f7"/><stop offset="0.599" stop-color="#475cfa"/><stop offset="0.719" stop-color="#4561fc"/><stop offset="0.747" stop-color="#426afe"/><stop offset="0.785" stop-color="#317dfc"/><stop offset="0.872" stop-color="#2e83f9"/><stop offset="0.937" stop-color="#2699e9"/><stop offset="0.997" stop-color="#249de6"/></linearGradient><linearGradient id="r69"><stop offset="0.000" stop-color="#3e26a8"/><stop offset="0.360" stop-color="#3e26a8"/><stop offset="0.392" stop-color="#3e27ab"/><stop offset="0.403" stop-color="#3f29b2"/><stop offset="0.425" stop-color="#4537d5"/><stop offset="0.436" stop-color="#463cde"/><stop offset="0.550" stop-color="#4741e5"/><stop offset="0.567" stop-color="#4747eb"/><stop offset="0.589" stop-color="#4755f6"/><stop offset="0.610" stop-color="#465dfa"/><stop offset="0.730" stop-color="#4562fc"/><stop offset="0.752" stop-color="#4269fe"/><stop offset="0.790" stop-color="#327cfc"/><stop offset="0.883" stop-color="#2e84f9"/><stop offset="0.948" stop-color="#2699e9"/><stop offset="0.997" stop-color="#249de6"/></linearGradient><linearGradient id="r70"><stop offset="0.000" stop-color="#3e26a8"/><stop offset="0.371" stop-color="#3e26a8"/><stop offset="0.403" stop-color="#3f28ad"/><stop offset="0.414" stop-color="#402bb6"/><stop offset="0.436" stop-color="#4539d8"/><stop offset="0.447" stop-color="#463de0"/><stop offset="0.556" stop-color="#4741e5"/><stop offset="0.572" stop-color="#4746ea"/><stop offset="0.599" stop-color="#4757f7"/><stop offset="0.616" stop-color="#475dfa"/><stop offset="0.736" stop-color="#4561fc"/><stop offset="0.757" stop-color="#4368fe"/><stop offset="0.801" stop-color="#317dfc"/><stop offset="0.888" stop-color="#2e83f9"/><stop offset="0.954" stop-color="#2699e9"/><stop offset="0.997" stop-color="#259de7"/></linearGradient><linearGradient id="r71"><stop offset="0.000" stop-color="#3e26a8"/><stop offset="0.376" stop-color="#3e26a8"/><stop offset="0.409" stop-color="#3e27ac"/><stop offset="0.420" stop-color="#402ab4"/><stop offset="0.441" stop-color="#4537d6"/><stop offset="0.452" stop-color="#463cdf"/><stop offset="0.567" stop-color="#4742e6"/><stop offset="0.583" stop-color="#4848ec"/><stop offset="0.605" stop-color="#4756f7"/><stop offset="0.621" stop-color="#475cfa"/><stop offset="0.741" stop-color="#4561fc"/><stop offset="0.768" stop-color="#426afe"/><stop offset="0.807" stop-color="#317dfc"/><stop offset="0.899" stop-color="#2e84f9"/><stop offset="0.959" stop-color="#2798ea"/><stop offset="0.997" stop-color="#259de7"/></linearGradient><linearGradient id="r72"><stop offset="0.000" stop-color="#3e26a8"/><stop offset="0.414" stop-color="#3e27ab"/><stop offset="0.425" stop-color="#3f29b1"/><stop offset="0.447" stop-color="#4536d3"/><stop offset="0.463" stop-color="#463de0"/><stop offset="0.572" stop-color="#4741e5"/><stop offset="0.589" stop-color="#4747eb"/><stop offset="0.610" stop-color="#4755f6"/><stop offset="0.627" stop-color="#475cfa"/><stop offset="0.752" stop-color="#4562fc"/><stop offset="0.774" stop-color="#4269fe"/><stop offset="0.812" stop-color="#327cfc"/><stop offset="0.905" stop-color="#2e83f9"/><stop offset="0.965" stop-color="#2797ea"/><stop offset="0.997" stop-color="#259ce7"/></linearGradient><linearGradient id="r73"><stop offset="0.000" stop-color="#3e26a8"/><stop offset="0.392" stop-color="#3e26a8"/><stop offset="0.425" stop-color="#3e28ac"/><stop offset="0.436" stop-color="#402ab5"/><stop offset="0.458" stop-color="#4538d7"/><stop offset="0.469" stop-color="#463ddf"/><stop offset="0.578" stop-color="#4741e5"/><stop offset="0.594" stop-color="#4746ea"/><stop offset="0.616" stop-color="#4854f6"/><stop offset="0.638" stop-color="#475dfa"/><stop offset="0.757" stop-color="#4561fc"/><stop offset="0.779" stop-color="#4369fe"/><stop offset="0.817" stop-color="#327cfc"/><stop offset="0.916" stop-color="#2e84f9"/><stop offset="0.970" stop-color="#2797eb"/><stop offset="0.997" stop-color="#259ce7"/></linearGradient><linearGradient id="r74"><stop offset="0.000" stop-color="#3e26a8"/><stop offset="0.398" stop-color="#3e26a8"/><stop offset="0.431" stop-color="#3e27ab"/><stop offset="0.441" stop-color="#3f29b2"/><stop offset="0.463" stop-color="#4536d5"/><stop offset="0.474" stop-color="#463cde"/><stop offset="0.589" stop-color="#4742e6"/><stop offset="0.627" stop-color="#4756f7"/><stop offset="0.643" stop-color="#475cfa"/><stop offset="0.763" stop-color="#4561fc"/><stop offset="0.790" stop-color="#416afe"/><stop offset="0.828" stop-color="#317dfc"/><stop offset="0.926" stop-color="#2e84f8"/><stop offset="0.997" stop-color="#269be8"/></linearGradient><linearGradient id="r75"><stop offset="0.000" stop-color="#3e26a8"/><stop offset="0.409" stop-color="#3e26a8"/><stop offset="0.441" stop-color="#3f28ad"/><stop offset="0.452" stop-color="#402bb6"/><stop offset="0.474" stop-color="#4539d8"/><stop offset="0.485" stop-color="#463de0"/><stop offset="0.594" stop-color="#4741e5"/><stop offset="0.610" stop-color="#4747eb"/><stop offset="0.632" stop-color="#4756f6"/><stop offset="0.649" stop-color="#475cfa"/><stop offset="0.774" stop-color="#4562fc"/><stop offset="0.796" stop-color="#426afe"/><stop offset="0.834" stop-color="#327dfc"/><stop offset="0.932" stop-color="#2e84f9"/><stop offset="0.997" stop-color="#2699e9"/></linearGradient><linearGradient id="r76"><stop offset="0.000" stop-color="#3e26a8"/><stop offset="0.414" stop-color="#3e26a8"/><stop offset="0.447" stop-color="#3e27ac"/><stop offset="0.458" stop-color="#402ab3"/><stop offset="0.480" stop-color="#4537d6"/><stop offset="0.490" stop-color="#463cdf"/><stop offset="0.599" stop-color="#4741e5"/><stop offset="0.616" stop-color="#4746eb"/><stop offset="0.638" stop-color="#4855f6"/><stop offset="0.654" stop-color="#475cfa"/><stop offset="0.779" stop-color="#4561fc"/><stop offset="0.801" stop-color="#4369fe"/><stop offset="0.839" stop-color="#327cfc"/><stop offset="0.937" stop-color="#2e83f9"/><stop offset="0.997" stop-color="#2797ea"/></linearGradient><linearGradient id="r77"><stop offset="0.000" stop-color="#3e26a8"/><stop offset="0.452" stop-color="#3e27ab"/><stop offset="0.463" stop-color="#3f29b1"/><stop offset="0.485" stop-color="#4536d3"/><stop offset="0.501" stop-color="#463de0"/><stop offset="0.610" stop-color="#4742e6"/><stop offset="0.659" stop-color="#475bf9"/><stop offset="0.785" stop-color="#4561fc"/><stop offset="0.812" stop-color="#416bfe"/><stop offset="0.850" stop-color="#317dfc"/><stop offset="0.948" stop-color="#2e84f9"/><stop offset="0.997" stop-color="#2995ec"/></linearGradient><linearGradient id="r78"><stop offset="0.000" stop-color="#3e26a8"/><stop offset="0.431" stop-color="#3e26a8"/><stop offset="0.463" stop-color="#3e28ac"/><stop offset="0.474" stop-color="#402ab5"/><stop offset="0.496" stop-color="#4538d7"/><stop offset="0.507" stop-color="#463ddf"/><stop offset="0.616" stop-color="#4741e5"/><stop offset="0.632" stop-color="#4747ec"/><stop offset="0.654" stop-color="#4756f6"/><stop offset="0.670" stop-color="#475cfa"/><stop offset="0.790" stop-color="#4561fc"/><stop offset="0.817" stop-color="#426afe"/><stop offset="0.856" stop-color="#317dfc"/><stop offset="0.954" stop-color="#2e83f9"/><stop offset="0.997" stop-color="#2b91ef"/></linearGradient><linearGradient id="r79"><stop offset="0.000" stop-color="#3e26a8"/><stop offset="0.436" stop-color="#3e26a8"/><stop offset="0.469" stop-color="#3e27ab"/><stop offset="0.480" stop-color="#402ab3"/><stop offset="0.501" stop-color="#4537d5"/><stop offset="0.512" stop-color="#463cde"/><stop offset="0.621" stop-color="#4741e5"/><stop offset="0.638" stop-color="#4747eb"/><stop offset="0.659" stop-color="#4755f6"/><stop offset="0.676" stop-color="#475cfa"/><stop offset="0.796" stop-color="#4661fc"/><stop offset="0.823" stop-color="#4269fe"/><stop offset="0.861" stop-color="#327cfc"/><stop offset="0.959" stop-color="#2e83f9"/><stop offset="0.997" stop-color="#2c8ef1"/></linearGradient><linearGradient id="r80"><stop offset="0.000" stop-color="#3e26a8"/><stop offset="0.441" stop-color="#3e26a8"/><stop offset="0.474" stop-color="#3e27ab"/><stop offset="0.490" stop-color="#402bb8"/><stop offset="0.507" stop-color="#4536d4"/><stop offset="0.518" stop-color="#463cde"/><stop offset="0.534" stop-color="#473fe2"/><stop offset="0.632" stop-color="#4742e6"/><stop offset="0.681" stop-color="#475bf9"/><stop offset="0.801" stop-color="#4661fc"/><stop offset="0.828" stop-color="#4269fe"/><stop offset="0.856" stop-color="#3578fd"/><stop offset="0.872" stop-color="#317dfc"/><stop offset="0.959" stop-color="#2f82fa"/><stop offset="0.997" stop-color="#2d8bf3"/></linearGradient><linearGradient id="r81"><stop offset="0.000" stop-color="#3e26a8"/><stop offset="0.480" stop-color="#3e27ab"/><stop offset="0.490" stop-color="#3f29b1"/><stop offset="0.518" stop-color="#4639d9"/><stop offset="0.529" stop-color="#463de0"/><stop offset="0.638" stop-color="#4742e6"/><stop offset="0.687" stop-color="#475bf9"/><stop offset="0.807" stop-color="#4661fc"/><stop offset="0.834" stop-color="#4369fe"/><stop offset="0.861" stop-color="#3578fd"/><stop offset="0.877" stop-color="#317dfc"/><stop offset="0.965" stop-color="#2f82fa"/><stop offset="0.997" stop-color="#2d89f5"/></linearGradient><linearGradient id="r82"><stop offset="0.000" stop-color="#3e26a8"/><stop offset="0.485" stop-color="#3e27ab"/><stop offset="0.501" stop-color="#402bb6"/><stop offset="0.523" stop-color="#4538d8"/><stop offset="0.534" stop-color="#463ddf"/><stop offset="0.643" stop-color="#4741e5"/><stop offset="0.659" stop-color="#4747eb"/><stop offset="0.692" stop-color="#475af9"/><stop offset="0.714" stop-color="#465efb"/><stop offset="0.812" stop-color="#4661fc"/><stop offset="0.839" stop-color="#4369fe"/><stop offset="0.866" stop-color="#3678fd"/><stop offset="0.883" stop-color="#317dfc"/><stop offset="0.970" stop-color="#2f82fa"/><stop offset="0.997" stop-color="#2e87f7"/></linearGradient><linearGradient id="r83"><stop offset="0.000" stop-color="#3e26a8"/><stop offset="0.490" stop-color="#3e27aa"/><stop offset="0.507" stop-color="#402ab5"/><stop offset="0.529" stop-color="#4538d7"/><stop offset="0.540" stop-color="#463ddf"/><stop offset="0.649" stop-color="#4741e5"/><stop offset="0.665" stop-color="#4746ea"/><stop offset="0.703" stop-color="#475bfa"/><stop offset="0.817" stop-color="#4660fc"/><stop offset="0.845" stop-color="#4368fe"/><stop offset="0.888" stop-color="#317dfc"/><stop offset="0.997" stop-color="#2e85f8"/></linearGradient><linearGradient id="r84"><stop offset="0.000" stop-color="#3e26a8"/><stop offset="0.469" stop-color="#3e26a8"/><stop offset="0.501" stop-color="#3e27ac"/><stop offset="0.512" stop-color="#402ab4"/><stop offset="0.534" stop-color="#4537d6"/><stop offset="0.545" stop-color="#463cdf"/><stop offset="0.659" stop-color="#4742e6"/><stop offset="0.708" stop-color="#475bf9"/><stop offset="0.823" stop-color="#4660fc"/><stop offset="0.850" stop-color="#4368fe"/><stop offset="0.894" stop-color="#317dfc"/><stop offset="0.997" stop-color="#2e84f9"/></linearGradient><linearGradient id="r85"><stop offset="0.000" stop-color="#3e26a8"/><stop offset="0.474" stop-color="#3e26a8"/><stop offset="0.507" stop-color="#3e27ac"/><stop offset="0.523" stop-color="#412cb9"/><stop offset="0.540" stop-color="#4537d5"/><stop offset="0.545" stop-color="#463adb"/><stop offset="0.561" stop-color="#473ee1"/><stop offset="0.665" stop-color="#4741e5"/><stop offset="0.681" stop-color="#4747eb"/><stop offset="0.703" stop-color="#4755f6"/><stop offset="0.730" stop-color="#465efb"/><stop offset="0.828" stop-color="#4660fc"/><stop offset="0.856" stop-color="#4368fe"/><stop offset="0.899" stop-color="#317dfc"/><stop offset="0.997" stop-color="#2e83f9"/></linearGradient><linearGradient id="r86"><stop offset="0.000" stop-color="#3e26a8"/><stop offset="0.480" stop-color="#3e26a8"/><stop offset="0.512" stop-color="#3e27ab"/><stop offset="0.529" stop-color="#402bb8"/><stop offset="0.550" stop-color="#4639da"/><stop offset="0.567" stop-color="#463ee1"/><stop offset="0.670" stop-color="#4741e5"/><stop offset="0.687" stop-color="#4746ea"/><stop offset="0.714" stop-color="#4757f7"/><stop offset="0.736" stop-color="#465dfb"/><stop offset="0.839" stop-color="#4561fc"/><stop offset="0.866" stop-color="#416bfe"/><stop offset="0.905" stop-color="#317dfc"/><stop offset="0.997" stop-color="#2f82fa"/></linearGradient><linearGradient id="r87"><stop offset="0.000" stop-color="#3e26a8"/><stop offset="0.518" stop-color="#3e27ab"/><stop offset="0.534" stop-color="#402bb7"/><stop offset="0.556" stop-color="#4639d9"/><stop offset="0.572" stop-color="#463ee1"/><stop offset="0.681" stop-color="#4742e6"/><stop offset="0.719" stop-color="#4757f7"/><stop offset="0.741" stop-color="#465dfa"/><stop offset="0.845" stop-color="#4561fc"/><stop offset="0.872" stop-color="#416afe"/><stop offset="0.910" stop-color="#317dfc"/><stop offset="0.997" stop-color="#2f81fa"/></linearGradient><linearGradient id="r88"><stop offset="0.000" stop-color="#3e26a8"/><stop offset="0.523" stop-color="#3e27ab"/><stop offset="0.540" stop-color="#402bb6"/><stop offset="0.561" stop-color="#4538d8"/><stop offset="0.578" stop-color="#463ee1"/><stop offset="0.687" stop-color="#4741e5"/><stop offset="0.703" stop-color="#4747eb"/><stop offset="0.725" stop-color="#4756f6"/><stop offset="0.747" stop-color="#465dfa"/><stop offset="0.850" stop-color="#4561fc"/><stop offset="0.877" stop-color="#426afe"/><stop offset="0.916" stop-color="#317dfc"/><stop offset="0.997" stop-color="#2f81fa"/></linearGradient><linearGradient id="r89"><stop offset="0.000" stop-color="#3e26a8"/><stop offset="0.529" stop-color="#3e27aa"/><stop offset="0.545" stop-color="#402ab5"/><stop offset="0.567" stop-color="#4538d7"/><stop offset="0.583" stop-color="#463ee1"/><stop offset="0.692" stop-color="#4741e5"/><stop offset="0.708" stop-color="#4746eb"/><stop offset="0.736" stop-color="#4758f8"/><stop offset="0.757" stop-color="#465dfb"/><stop offset="0.856" stop-color="#4561fc"/><stop offset="0.883" stop-color="#426afe"/><stop offset="0.921" stop-color="#317dfc"/><stop offset="0.997" stop-color="#2f81fa"/></linearGradient><linearGradient id="r90"><stop offset="0.000" stop-color="#3e26a8"/><stop offset="0.534" stop-color="#3e27aa"/><stop offset="0.550" stop-color="#402ab4"/><stop offset="0.572" stop-color="#4537d6"/><stop offset="0.589" stop-color="#463ee0"/><stop offset="0.698" stop-color="#4741e5"/><stop offset="0.714" stop-color="#4746ea"/><stop offset="0.741" stop-color="#4757f7"/><stop offset="0.763" stop-color="#465dfa"/><stop offset="0.861" stop-color="#4561fc"/><stop offset="0.888" stop-color="#426afe"/><stop offset="0.926" stop-color="#317dfc"/><stop offset="0.997" stop-color="#2f81fa"/></linearGradient><linearGradient id="r91"><stop offset="0.000" stop-color="#3e26a8"/><stop offset="0.512" stop-color="#3e26a8"/><stop offset="0.545" stop-color="#3e27ac"/><stop offset="0.561" stop-color="#412cb9"/><stop offset="0.578" stop-color="#4537d5"/><stop offset="0.583" stop-color="#463adb"/><stop offset="0.599" stop-color="#473ee1"/><stop offset="0.708" stop-color="#4741e5"/><stop offset="0.725" stop-color="#4747ec"/><stop offset="0.747" stop-color="#4756f6"/><stop offset="0.768" stop-color="#465dfa"/><stop offset="0.866" stop-color="#4561fc"/><stop offset="0.894" stop-color="#426afe"/><stop offset="0.932" stop-color="#327dfc"/><stop offset="0.997" stop-color="#2f80fa"/></linearGradient><linearGradient id="r92"><stop offset="0.000" stop-color="#3e26a8"/><stop offset="0.518" stop-color="#3e26a8"/><stop offset="0.550" stop-color="#3e27ab"/><stop offset="0.567" stop-color="#402bb8"/><stop offset="0.589" stop-color="#4639da"/><stop offset="0.605" stop-color="#463ee1"/><stop offset="0.714" stop-color="#4741e5"/><stop offset="0.730" stop-color="#4747eb"/><stop offset="0.752" stop-color="#4755f6"/><stop offset="0.774" stop-color="#475dfa"/><stop offset="0.872" stop-color="#4561fc"/><stop offset="0.899" stop-color="#426afe"/><stop offset="0.937" stop-color="#327cfc"/><stop offset="0.997" stop-color="#2f80fa"/></linearGradient><linearGradient id="r93"><stop offset="0.000" stop-color="#3e26a8"/><stop offset="0.556" stop-color="#3e27ab"/><stop offset="0.572" stop-color="#402bb7"/><stop offset="0.594" stop-color="#4539d9"/><stop offset="0.610" stop-color="#463ee1"/><stop offset="0.719" stop-color="#4741e5"/><stop offset="0.736" stop-color="#4746ea"/><stop offset="0.763" stop-color="#4757f7"/><stop offset="0.779" stop-color="#475dfa"/><stop offset="0.877" stop-color="#4561fc"/><stop offset="0.905" stop-color="#426afe"/><stop offset="0.943" stop-color="#327dfc"/><stop offset="0.997" stop-color="#2f80fa"/></linearGradient><linearGradient id="r94"><stop offset="0.000" stop-color="#3e26a8"/><stop offset="0.561" stop-color="#3e27ab"/><stop offset="0.578" stop-color="#402ab5"/><stop offset="0.599" stop-color="#4538d8"/><stop offset="0.616" stop-color="#463ee1"/><stop offset="0.725" stop-color="#4741e5"/><stop offset="0.741" stop-color="#4745e9"/><stop offset="0.768" stop-color="#4756f7"/><stop offset="0.790" stop-color="#465dfa"/><stop offset="0.883" stop-color="#4561fc"/><stop offset="0.910" stop-color="#426afe"/><stop offset="0.943" stop-color="#337bfc"/><stop offset="0.997" stop-color="#2f80fa"/></linearGradient><linearGradient id="r95"><stop offset="0.000" stop-color="#3e26a8"/><stop offset="0.567" stop-color="#3e27aa"/><stop offset="0.583" stop-color="#402ab4"/><stop offset="0.605" stop-color="#4538d7"/><stop offset="0.621" stop-color="#463ee1"/><stop offset="0.736" stop-color="#4741e5"/><stop offset="0.752" stop-color="#4747eb"/><stop offset="0.774" stop-color="#4756f6"/><stop offset="0.796" stop-color="#465dfa"/><stop offset="0.888" stop-color="#4561fc"/><stop offset="0.916" stop-color="#426afe"/><stop offset="0.948" stop-color="#327bfc"/><stop offset="0.997" stop-color="#2f80fa"/></linearGradient><linearGradient id="r96"><stop offset="0.000" stop-color="#3e26a8"/><stop offset="0.540" stop-color="#3e26a8"/><stop offset="0.578" stop-color="#3e27ac"/><stop offset="0.594" stop-color="#412cba"/><stop offset="0.610" stop-color="#4537d6"/><stop offset="0.627" stop-color="#463de0"/><stop offset="0.741" stop-color="#4741e5"/><stop offset="0.757" stop-color="#4746eb"/><stop offset="0.779" stop-color="#4755f6"/><stop offset="0.801" stop-color="#475dfa"/><stop offset="0.894" stop-color="#4561fc"/><stop offset="0.921" stop-color="#426afe"/><stop offset="0.954" stop-color="#327bfc"/><stop offset="0.997" stop-color="#3080fa"/></linearGradient><linearGradient id="r97"><stop offset="0.000" stop-color="#3e26a8"/><stop offset="0.545" stop-color="#3e26a8"/><stop offset="0.583" stop-color="#3e27ab"/><stop offset="0.599" stop-color="#412cb9"/><stop offset="0.621" stop-color="#463ada"/><stop offset="0.638" stop-color="#463ee1"/><stop offset="0.747" stop-color="#4741e5"/><stop offset="0.763" stop-color="#4746ea"/><stop offset="0.790" stop-color="#4757f7"/><stop offset="0.807" stop-color="#475cfa"/><stop offset="0.905" stop-color="#4562fc"/><stop offset="0.926" stop-color="#426afe"/><stop offset="0.959" stop-color="#327bfc"/><stop offset="0.997" stop-color="#3080fa"/></linearGradient><linearGradient id="r98"><stop offset="0.000" stop-color="#3e26a8"/><stop offset="0.589" stop-color="#3e27ab"/><stop offset="0.605" stop-color="#402bb7"/><stop offset="0.627" stop-color="#4639d9"/><stop offset="0.643" stop-color="#463ee1"/><stop offset="0.757" stop-color="#4742e6"/><stop offset="0.774" stop-color="#4848ec"/><stop offset="0.796" stop-color="#4756f7"/><stop offset="0.812" stop-color="#475cfa"/><stop offset="0.910" stop-color="#4562fc"/><stop offset="0.932" stop-color="#416afe"/><stop offset="0.965" stop-color="#327bfc"/><stop offset="0.997" stop-color="#3080fb"/></linearGradient><linearGradient id="r99"><stop offset="0.000" stop-color="#3e26a8"/><stop offset="0.594" stop-color="#3e27ab"/><stop offset="0.610" stop-color="#402bb6"/><stop offset="0.632" stop-color="#4538d8"/><stop offset="0.649" stop-color="#463ee1"/><stop offset="0.763" stop-color="#4741e5"/><stop offset="0.779" stop-color="#4747eb"/><stop offset="0.801" stop-color="#4755f6"/><stop offset="0.823" stop-color="#465dfa"/><stop offset="0.916" stop-color="#4562fc"/><stop offset="0.937" stop-color="#416bfe"/><stop offset="0.965" stop-color="#347afd"/><stop offset="0.997" stop-color="#307ffb"/></linearGradient><linearGradient id="r100"><stop offset="0.000" stop-color="#3e26a8"/><stop offset="0.599" stop-color="#3e27aa"/><stop offset="0.616" stop-color="#402ab5"/><stop offset="0.638" stop-color="#4538d7"/><stop offset="0.654" stop-color="#463ee1"/><stop offset="0.768" stop-color="#4741e5"/><stop offset="0.785" stop-color="#4746eb"/><stop offset="0.807" stop-color="#4755f6"/><stop offset="0.828" stop-color="#475dfa"/><stop offset="0.921" stop-color="#4562fc"/><stop offset="0.943" stop-color="#416bfe"/><stop offset="0.970" stop-color="#347afd"/><stop offset="0.997" stop-color="#307ffb"/></linearGradient><linearGradient id="r101"><stop offset="0.000" stop-color="#3e26a8"/><stop offset="0.605" stop-color="#3e27aa"/><stop offset="0.621" stop-color="#402ab3"/><stop offset="0.643" stop-color="#4537d6"/><stop offset="0.659" stop-color="#463ee0"/><stop offset="0.779" stop-color="#4742e6"/><stop offset="0.812" stop-color="#4854f5"/><stop offset="0.834" stop-color="#475cfa"/><stop offset="0.926" stop-color="#4562fc"/><stop offset="0.948" stop-color="#416bfe"/><stop offset="0.975" stop-color="#347afd"/><stop offset="0.997" stop-color="#307ffb"/></linearGradient><linearGradient id="r102"><stop offset="0.000" stop-color="#3e26a8"/><stop offset="0.578" stop-color="#3e26a8"/><stop offset="0.616" stop-color="#3e27ab"/><stop offset="0.632" stop-color="#412cb9"/><stop offset="0.649" stop-color="#4537d5"/><stop offset="0.665" stop-color="#463de0"/><stop offset="0.785" stop-color="#4742e6"/><stop offset="0.801" stop-color="#4848ec"/><stop offset="0.823" stop-color="#4756f7"/><stop offset="0.839" stop-color="#475cfa"/><stop offset="0.932" stop-color="#4562fc"/><stop offset="0.954" stop-color="#416bfe"/><stop offset="0.981" stop-color="#347afd"/><stop offset="0.997" stop-color="#317efb"/></linearGradient><linearGradient id="r103"><stop offset="0.000" stop-color="#3e26a8"/><stop offset="0.583" stop-color="#3e26a8"/><stop offset="0.621" stop-color="#3e27ab"/><stop offset="0.638" stop-color="#402bb8"/><stop offset="0.659" stop-color="#4639da"/><stop offset="0.670" stop-color="#463de0"/><stop offset="0.790" stop-color="#4741e5"/><stop offset="0.807" stop-color="#4747eb"/><stop offset="0.828" stop-color="#4755f6"/><stop offset="0.845" stop-color="#475cfa"/><stop offset="0.937" stop-color="#4562fc"/><stop offset="0.959" stop-color="#416bfe"/><stop offset="0.997" stop-color="#317dfc"/></linearGradient><linearGradient id="r104"><stop offset="0.000" stop-color="#3e26a8"/><stop offset="0.627" stop-color="#3e27ab"/><stop offset="0.643" stop-color="#402bb6"/><stop offset="0.665" stop-color="#4539d9"/><stop offset="0.681" stop-color="#463ee1"/><stop offset="0.796" stop-color="#4741e5"/><stop offset="0.812" stop-color="#4746ea"/><stop offset="0.834" stop-color="#4855f6"/><stop offset="0.850" stop-color="#475cfa"/><stop offset="0.943" stop-color="#4562fc"/><stop offset="0.965" stop-color="#416bfe"/><stop offset="0.997" stop-color="#327cfc"/></linearGradient></defs>
<g shape-rendering="crispEdges"><rect x="310.0" y="14" width="183.5" height="1.3" fill="url(#r0)"/><rect x="310.0" y="15" width="183.5" height="1.3" fill="url(#r1)"/><rect x="310.0" y="16" width="183.5" height="1.3" fill="url(#r2)"/><rect x="310.0" y="17" width="183.5" height="1.3" fill="url(#r3)"/><rect x="310.0" y="18" width="183.5" height="2.3" fill="url(#r4)"/><rect x="310.0" y="20" width="183.5" height="2.3" fill="url(#r5)"/><rect x="310.0" y="22" width="183.5" height="2.3" fill="url(#r6)"/><rect x="310.0" y="24" width="183.5" height="2.3" fill="url(#r7)"/><rect x="310.0" y="26" width="183.5" height="2.3" fill="url(#r8)"/><rect x="310.0" y="28" width="183.5" height="2.3" fill="url(#r9)"/><rect x="310.0" y="30" width="183.5" height="2.3" fill="url(#r10)"/><rect x="310.0" y="32" width="183.5" height="2.3" fill="url(#r11)"/><rect x="310.0" y="34" width="183.5" height="2.3" fill="url(#r12)"/><rect x="310.0" y="36" width="183.5" height="2.3" fill="url(#r13)"/><rect x="310.0" y="38" width="183.5" height="2.3" fill="url(#r14)"/><rect x="310.0" y="40" width="183.5" height="2.3" fill="url(#r15)"/><rect x="310.0" y="42" width="183.5" height="2.3" fill="url(#r16)"/><rect x="310.0" y="44" width="183.5" height="2.3" fill="url(#r17)"/><rect x="310.0" y="46" width="183.5" height="2.3" fill="url(#r18)"/><rect x="310.0" y="48" width="183.5" height="2.3" fill="url(#r19)"/><rect x="310.0" y="50" width="183.5" height="2.3" fill="url(#r20)"/><rect x="310.0" y="52" width="183.5" height="2.3" fill="url(#r21)"/><rect x="310.0" y="54" width="183.5" height="2.3" fill="url(#r22)"/><rect x="310.0" y="56" width="183.5" height="2.3" fill="url(#r23)"/><rect x="310.0" y="58" width="183.5" height="2.3" fill="url(#r24)"/><rect x="310.0" y="60" width="183.5" height="2.3" fill="url(#r25)"/><rect x="310.0" y="62" width="183.5" height="2.3" fill="url(#r26)"/><rect x="310.0" y="64" width="183.5" height="2.3" fill="url(#r27)"/><rect x="310.0" y="66" width="183.5" height="2.3" fill="url(#r28)"/><rect x="310.0" y="68" width="183.5" height="2.3" fill="url(#r29)"/><rect x="310.0" y="70" width="183.5" height="2.3" fill="url(#r30)"/><rect x="310.0" y="72" width="183.5" height="2.3" fill="url(#r31)"/><rect x="310.0" y="74" width="183.5" height="2.3" fill="url(#r32)"/><rect x="310.0" y="76" width="183.5" height="2.3" fill="url(#r33)"/><rect x="310.0" y="78" width="183.5" height="2.3" fill="url(#r34)"/><rect x="310.0" y="80" width="183.5" height="2.3" fill="url(#r35)"/><rect x="310.0" y="82" width="183.5" height="2.3" fill="url(#r36)"/><rect x="310.0" y="84" width="183.5" height="2.3" fill="url(#r37)"/><rect x="310.0" y="86" width="183.5" height="2.3" fill="url(#r38)"/><rect x="310.0" y="88" width="183.5" height="2.3" fill="url(#r39)"/><rect x="310.0" y="90" width="183.5" height="2.3" fill="url(#r40)"/><rect x="310.0" y="92" width="183.5" height="2.3" fill="url(#r41)"/><rect x="310.0" y="94" width="183.5" height="2.3" fill="url(#r42)"/><rect x="310.0" y="96" width="183.5" height="2.3" fill="url(#r43)"/><rect x="310.0" y="98" width="183.5" height="2.3" fill="url(#r44)"/><rect x="310.0" y="100" width="183.5" height="2.3" fill="url(#r45)"/><rect x="310.0" y="102" width="183.5" height="2.3" fill="url(#r46)"/><rect x="310.0" y="104" width="183.5" height="2.3" fill="url(#r47)"/><rect x="310.0" y="106" width="183.5" height="2.3" fill="url(#r48)"/><rect x="310.0" y="108" width="183.5" height="2.3" fill="url(#r49)"/><rect x="310.0" y="110" width="183.5" height="2.3" fill="url(#r50)"/><rect x="310.0" y="112" width="183.5" height="2.3" fill="url(#r51)"/><rect x="310.0" y="114" width="183.5" height="2.3" fill="url(#r52)"/><rect x="310.0" y="116" width="183.5" height="2.3" fill="url(#r53)"/><rect x="310.0" y="118" width="183.5" height="2.3" fill="url(#r54)"/><rect x="310.0" y="120" width="183.5" height="2.3" fill="url(#r55)"/><rect x="310.0" y="122" width="183.5" height="2.3" fill="url(#r56)"/><rect x="310.0" y="124" width="183.5" height="2.3" fill="url(#r57)"/><rect x="310.0" y="126" width="183.5" height="2.3" fill="url(#r58)"/><rect x="310.0" y="128" width="183.5" height="2.3" fill="url(#r59)"/><rect x="310.0" y="130" width="183.5" height="2.3" fill="url(#r60)"/><rect x="310.0" y="132" width="183.5" height="2.3" fill="url(#r61)"/><rect x="310.0" y="134" width="183.5" height="2.3" fill="url(#r62)"/><rect x="310.0" y="136" width="183.5" height="2.3" fill="url(#r63)"/><rect x="310.0" y="138" width="183.5" height="2.3" fill="url(#r64)"/><rect x="310.0" y="140" width="183.5" height="2.3" fill="url(#r65)"/><rect x="310.0" y="142" width="183.5" height="2.3" fill="url(#r66)"/><rect x="310.0" y="144" width="183.5" height="2.3" fill="url(#r67)"/><rect x="310.0" y="146" width="183.5" height="2.3" fill="url(#r68)"/><rect x="310.0" y="148" width="183.5" height="2.3" fill="url(#r69)"/><rect x="310.0" y="150" width="183.5" height="2.3" fill="url(#r70)"/><rect x="310.0" y="152" width="183.5" height="2.3" fill="url(#r71)"/><rect x="310.0" y="154" width="183.5" height="2.3" fill="url(#r72)"/><rect x="310.0" y="156" width="183.5" height="2.3" fill="url(#r73)"/><rect x="310.0" y="158" width="183.5" height="2.3" fill="url(#r74)"/><rect x="310.0" y="160" width="183.5" height="2.3" fill="url(#r75)"/><rect x="310.0" y="162" width="183.5" height="2.3" fill="url(#r76)"/><rect x="310.0" y="164" width="183.5" height="2.3" fill="url(#r77)"/><rect x="310.0" y="166" width="183.5" height="2.3" fill="url(#r78)"/><rect x="310.0" y="168" width="183.5" height="2.3" fill="url(#r79)"/><rect x="310.0" y="170" width="183.5" height="2.3" fill="url(#r80)"/><rect x="310.0" y="172" width="183.5" height="2.3" fill="url(#r81)"/><rect x="310.0" y="174" width="183.5" height="2.3" fill="url(#r82)"/><rect x="310.0" y="176" width="183.5" height="2.3" fill="url(#r83)"/><rect x="310.0" y="178" width="183.5" height="2.3" fill="url(#r84)"/><rect x="310.0" y="180" width="183.5" height="2.3" fill="url(#r85)"/><rect x="310.0" y="182" width="183.5" height="2.3" fill="url(#r86)"/><rect x="310.0" y="184" width="183.5" height="2.3" fill="url(#r87)"/><rect x="310.0" y="186" width="183.5" height="2.3" fill="url(#r88)"/><rect x="310.0" y="188" width="183.5" height="2.3" fill="url(#r89)"/><rect x="310.0" y="190" width="183.5" height="2.3" fill="url(#r90)"/><rect x="310.0" y="192" width="183.5" height="2.3" fill="url(#r91)"/><rect x="310.0" y="194" width="183.5" height="2.3" fill="url(#r92)"/><rect x="310.0" y="196" width="183.5" height="2.3" fill="url(#r93)"/><rect x="310.0" y="198" width="183.5" height="2.3" fill="url(#r94)"/><rect x="310.0" y="200" width="183.5" height="2.3" fill="url(#r95)"/><rect x="310.0" y="202" width="183.5" height="2.3" fill="url(#r96)"/><rect x="310.0" y="204" width="183.5" height="2.3" fill="url(#r97)"/><rect x="310.0" y="206" width="183.5" height="2.3" fill="url(#r98)"/><rect x="310.0" y="208" width="183.5" height="2.3" fill="url(#r99)"/><rect x="310.0" y="210" width="183.5" height="2.3" fill="url(#r100)"/><rect x="310.0" y="212" width="183.5" height="2.3" fill="url(#r101)"/><rect x="310.0" y="214" width="183.5" height="2.3" fill="url(#r102)"/><rect x="310.0" y="216" width="183.5" height="2.3" fill="url(#r103)"/><rect x="310.0" y="218" width="183.5" height="1.6" fill="url(#r104)"/></g>
<path d="M340.40,14.0 V219.6" stroke="#0000ff" stroke-width="0.8" fill="none"/>
<path d="M370.95,14.0 V219.6" stroke="#053be6" stroke-width="0.8" fill="none"/>
<path d="M401.50,14.0 V219.6" stroke="#0873c4" stroke-width="0.8" fill="none"/>
<path d="M432.05,14.0 V219.6" stroke="#08a8a6" stroke-width="0.8" fill="none"/>
<path d="M462.60,14.0 V219.6" stroke="#08e685" stroke-width="0.8" fill="none"/>
<path d="M310.0,65.60 H493.5" stroke="#ffd608" stroke-width="0.9" fill="none"/>
<path d="M310.0,91.30 H493.5" stroke="#ffa108" stroke-width="0.9" fill="none"/>
<path d="M310.0,117.00 H493.5" stroke="#ff6b08" stroke-width="0.9" fill="none"/>
<path d="M310.0,142.70 H493.5" stroke="#ff3808" stroke-width="0.9" fill="none"/>
<path d="M310.0,168.40 H493.5" stroke="#ff0000" stroke-width="0.9" fill="none"/>
<path d="M309.55,14.0 V219.55 H493.5" stroke="#262626" stroke-width="1.0" fill="none"/>
<path d="M340.40,219.7 V224.4" stroke="#262626" stroke-width="0.95"/>
<path d="M401.50,219.7 V224.4" stroke="#262626" stroke-width="0.95"/>
<path d="M462.60,219.7 V224.4" stroke="#262626" stroke-width="0.95"/>
<path d="M304.9,39.90 H309.6" stroke="#262626" stroke-width="0.95"/>
<path d="M304.9,91.30 H309.6" stroke="#262626" stroke-width="0.95"/>
<path d="M304.9,142.70 H309.6" stroke="#262626" stroke-width="0.95"/>
<path d="M304.9,194.10 H309.6" stroke="#262626" stroke-width="0.95"/>
<text transform="translate(295.39,44.30) scale(1.0000,1.0000)" font-family="Liberation Sans" font-size="11.00" font-weight="normal" font-style="normal" fill="#262626" stroke="#262626" stroke-width="0.10">0</text>
<text transform="translate(282.52,95.70) scale(1.0000,1.0000)" font-family="Liberation Sans" font-size="11.00" font-weight="normal" font-style="normal" fill="#262626" stroke="#262626" stroke-width="0.10">-0.2</text>
<text transform="translate(282.52,147.09) scale(1.0000,1.0000)" font-family="Liberation Sans" font-size="11.00" font-weight="normal" font-style="normal" fill="#262626" stroke="#262626" stroke-width="0.10">-0.4</text>
<text transform="translate(282.52,198.49) scale(1.0000,1.0000)" font-family="Liberation Sans" font-size="11.00" font-weight="normal" font-style="normal" fill="#262626" stroke="#262626" stroke-width="0.10">-0.6</text>
<text transform="translate(332.56,239.20) scale(1.0000,1.0000)" font-family="Liberation Sans" font-size="11.00" font-weight="normal" font-style="normal" fill="#262626" stroke="#262626" stroke-width="0.10">0.2</text>
<text transform="translate(393.66,239.20) scale(1.0000,1.0000)" font-family="Liberation Sans" font-size="11.00" font-weight="normal" font-style="normal" fill="#262626" stroke="#262626" stroke-width="0.10">0.4</text>
<text transform="translate(454.76,239.20) scale(1.0000,1.0000)" font-family="Liberation Sans" font-size="11.00" font-weight="normal" font-style="normal" fill="#262626" stroke="#262626" stroke-width="0.10">0.6</text>
<text transform="translate(383.20,254.30) scale(1.0000,1.0000)" font-family="Liberation Sans" font-size="11.73" font-weight="normal" font-style="normal" fill="#262626" stroke="#262626" stroke-width="0.10">V</text>
<text transform="translate(390.40,259.70) scale(1.0000,1.0000)" font-family="Liberation Sans" font-size="9.40" font-weight="normal" font-style="normal" fill="#262626" stroke="#262626" stroke-width="0.10">T</text>
<text transform="translate(399.93,254.04) scale(1.0000,1.0000)" font-family="Liberation Sans" font-size="11.73" font-weight="normal" font-style="normal" fill="#262626" stroke="#262626" stroke-width="0.10">[ V ]</text>
<text transform="translate(272.80,135.40) rotate(-90) scale(1.0000,1.0000)" font-family="Liberation Sans" font-size="11.73" font-weight="normal" font-style="normal" fill="#262626" stroke="#262626" stroke-width="0.10">V</text>
<text transform="translate(278.11,128.20) rotate(-90) scale(1.0000,1.0000)" font-family="Liberation Sans" font-size="9.40" font-weight="normal" font-style="normal" fill="#262626" stroke="#262626" stroke-width="0.10">S</text>
<text transform="translate(272.54,118.15) rotate(-90) scale(1.0000,1.0000)" font-family="Liberation Sans" font-size="11.73" font-weight="normal" font-style="normal" fill="#262626" stroke="#262626" stroke-width="0.10">[ V ]</text>
<defs><linearGradient id="cb" x1="0" y1="0" x2="0" y2="1"><stop offset="0.0000" stop-color="#f9fb15"/><stop offset="0.0312" stop-color="#f6ef20"/><stop offset="0.0625" stop-color="#f5e327"/><stop offset="0.0938" stop-color="#f9d62d"/><stop offset="0.1250" stop-color="#feca33"/><stop offset="0.1562" stop-color="#febe3c"/><stop offset="0.1875" stop-color="#f1ba37"/><stop offset="0.2188" stop-color="#debc2a"/><stop offset="0.2500" stop-color="#c8c129"/><stop offset="0.2812" stop-color="#afc637"/><stop offset="0.3125" stop-color="#94ca4a"/><stop offset="0.3438" stop-color="#77cc60"/><stop offset="0.3750" stop-color="#5ccc76"/><stop offset="0.4062" stop-color="#44ca8a"/><stop offset="0.4375" stop-color="#34c79c"/><stop offset="0.4688" stop-color="#28c2ab"/><stop offset="0.5000" stop-color="#12beb9"/><stop offset="0.5312" stop-color="#01b9c6"/><stop offset="0.5625" stop-color="#0cb3d3"/><stop offset="0.5938" stop-color="#1aacdd"/><stop offset="0.6250" stop-color="#21a3e3"/><stop offset="0.6562" stop-color="#269ae9"/><stop offset="0.6875" stop-color="#2c90f0"/><stop offset="0.7188" stop-color="#2e85f8"/><stop offset="0.7500" stop-color="#347afd"/><stop offset="0.7812" stop-color="#3f6efe"/><stop offset="0.8125" stop-color="#4562fc"/><stop offset="0.8438" stop-color="#4757f7"/><stop offset="0.8750" stop-color="#484cef"/><stop offset="0.9062" stop-color="#4741e5"/><stop offset="0.9375" stop-color="#4536d5"/><stop offset="0.9688" stop-color="#422ebf"/><stop offset="1.0000" stop-color="#3e26a8"/></linearGradient></defs>
<rect x="498.4" y="14.0" width="10.2" height="205.6" fill="url(#cb)" stroke="#262626" stroke-width="0.5"/>
<text transform="translate(511.70,224.39) scale(1.0000,1.0000)" font-family="Liberation Sans" font-size="11.00" font-weight="normal" font-style="normal" fill="#262626" stroke="#262626" stroke-width="0.10">0</text>
<path d="M506.6,173.91 H508.6" stroke="#262626" stroke-width="0.7"/>
<text transform="translate(511.70,178.05) scale(1.0000,1.0000)" font-family="Liberation Sans" font-size="11.00" font-weight="normal" font-style="normal" fill="#262626" stroke="#262626" stroke-width="0.10">5</text>
<path d="M506.6,128.22 H508.6" stroke="#262626" stroke-width="0.7"/>
<text transform="translate(511.70,132.42) scale(1.0000,1.0000)" font-family="Liberation Sans" font-size="11.00" font-weight="normal" font-style="normal" fill="#262626" stroke="#262626" stroke-width="0.10">10</text>
<path d="M506.6,82.53 H508.6" stroke="#262626" stroke-width="0.7"/>
<text transform="translate(511.70,86.67) scale(1.0000,1.0000)" font-family="Liberation Sans" font-size="11.00" font-weight="normal" font-style="normal" fill="#262626" stroke="#262626" stroke-width="0.10">15</text>
<path d="M506.6,36.84 H508.6" stroke="#262626" stroke-width="0.7"/>
<text transform="translate(511.70,41.04) scale(1.0000,1.0000)" font-family="Liberation Sans" font-size="11.00" font-weight="normal" font-style="normal" fill="#262626" stroke="#262626" stroke-width="0.10">20</text>
<path d="M514.3,234.8 L520.0,240.5 M520.0,234.8 L514.3,240.5" stroke="#262626" stroke-width="0.75" fill="none"/>
<text transform="translate(524.80,240.48) scale(1.0000,1.0000)" font-family="Liberation Sans" font-size="11.73" font-weight="normal" font-style="normal" fill="#262626" stroke="#262626" stroke-width="0.10">e</text>
<text transform="translate(531.80,236.20) scale(0.9065,1.0000)" font-family="Liberation Sans" font-size="9.14" font-weight="normal" font-style="normal" fill="#262626" stroke="#262626" stroke-width="0.10">2</text>
<text transform="translate(536.60,240.58) scale(1.0000,1.0000)" font-family="Liberation Sans" font-size="11.73" font-weight="normal" font-style="normal" fill="#262626" stroke="#262626" stroke-width="0.10">/h</text>
<text transform="translate(534.90,15.32) scale(1.0748,1.0000)" font-family="Liberation Sans" font-size="17.54" font-weight="normal" font-style="normal" fill="#000" stroke="#000" stroke-width="0.09">(d)</text>
<text transform="translate(534.90,143.87) scale(1.0526,1.0000)" font-family="Liberation Sans" font-size="17.75" font-weight="normal" font-style="normal" fill="#000" stroke="#000" stroke-width="0.09">(e)</text>
<defs><clipPath id="cl0"><rect x="580.5" y="13.8" width="103.3" height="75.60000000000001"/></clipPath></defs>
<path d="M580.8,79.10 H683.8" stroke="#4a4a4a" stroke-width="0.75" stroke-dasharray="3.4 1.45" fill="none" opacity="0.78"/>
<path d="M580.8,69.80 H683.8" stroke="#4a4a4a" stroke-width="0.75" stroke-dasharray="3.4 1.45" fill="none" opacity="0.78"/>
<path d="M580.8,60.50 H683.8" stroke="#4a4a4a" stroke-width="0.75" stroke-dasharray="3.4 1.45" fill="none" opacity="0.78"/>
<path d="M580.8,51.20 H683.8" stroke="#4a4a4a" stroke-width="0.75" stroke-dasharray="3.4 1.45" fill="none" opacity="0.78"/>
<path d="M580.8,41.90 H683.8" stroke="#4a4a4a" stroke-width="0.75" stroke-dasharray="3.4 1.45" fill="none" opacity="0.78"/>
<path d="M580.8,32.60 H683.8" stroke="#4a4a4a" stroke-width="0.75" stroke-dasharray="3.4 1.45" fill="none" opacity="0.78"/>
<path d="M580.8,23.30 H683.8" stroke="#4a4a4a" stroke-width="0.75" stroke-dasharray="3.4 1.45" fill="none" opacity="0.78"/>
<path d="M580.8,14.10 H683.8" stroke="#4a4a4a" stroke-width="0.8" stroke-dasharray="3.4 1.45" fill="none" opacity="0.36"/>
<path d="M580.8,13.6 V88.4 H683.9" stroke="#262626" stroke-width="1.0" fill="none"/>
<path d="M578.0999999999999,88.40 H580.8" stroke="#262626" stroke-width="1.0"/>
<text transform="translate(568.89,92.75) scale(1.0000,1.0000)" font-family="Liberation Sans" font-size="11.00" font-weight="normal" font-style="normal" fill="#262626" stroke="#262626" stroke-width="0.10">0</text>
<path d="M578.0999999999999,69.80 H580.8" stroke="#262626" stroke-width="1.0"/>
<text transform="translate(568.89,74.15) scale(1.0000,1.0000)" font-family="Liberation Sans" font-size="11.00" font-weight="normal" font-style="normal" fill="#262626" stroke="#262626" stroke-width="0.10">4</text>
<path d="M578.0999999999999,51.20 H580.8" stroke="#262626" stroke-width="1.0"/>
<text transform="translate(568.89,55.55) scale(1.0000,1.0000)" font-family="Liberation Sans" font-size="11.00" font-weight="normal" font-style="normal" fill="#262626" stroke="#262626" stroke-width="0.10">8</text>
<path d="M578.0999999999999,32.60 H580.8" stroke="#262626" stroke-width="1.0"/>
<text transform="translate(562.79,37.00) scale(1.0000,1.0000)" font-family="Liberation Sans" font-size="11.00" font-weight="normal" font-style="normal" fill="#262626" stroke="#262626" stroke-width="0.10">12</text>
<path d="M578.0999999999999,14.00 H580.8" stroke="#262626" stroke-width="1.0"/>
<text transform="translate(562.79,18.34) scale(1.0000,1.0000)" font-family="Liberation Sans" font-size="11.00" font-weight="normal" font-style="normal" fill="#262626" stroke="#262626" stroke-width="0.10">16</text>
<path d="M593.62,88.4 V91.0" stroke="#262626" stroke-width="1.0"/>
<text transform="translate(583.23,106.10) scale(1.0000,1.0000)" font-family="Liberation Sans" font-size="11.00" font-weight="normal" font-style="normal" fill="#262626" stroke="#262626" stroke-width="0.10">-0.6</text>
<path d="M619.28,88.4 V91.0" stroke="#262626" stroke-width="1.0"/>
<text transform="translate(608.89,106.10) scale(1.0000,1.0000)" font-family="Liberation Sans" font-size="11.00" font-weight="normal" font-style="normal" fill="#262626" stroke="#262626" stroke-width="0.10">-0.4</text>
<path d="M644.94,88.4 V91.0" stroke="#262626" stroke-width="1.0"/>
<text transform="translate(634.55,106.10) scale(1.0000,1.0000)" font-family="Liberation Sans" font-size="11.00" font-weight="normal" font-style="normal" fill="#262626" stroke="#262626" stroke-width="0.10">-0.2</text>
<path d="M670.60,88.4 V91.0" stroke="#262626" stroke-width="1.0"/>
<text transform="translate(667.45,106.10) scale(1.0000,1.0000)" font-family="Liberation Sans" font-size="11.00" font-weight="normal" font-style="normal" fill="#262626" stroke="#262626" stroke-width="0.10">0</text>
<g clip-path="url(#cl0)" fill="none" stroke-width="1.35" stroke-linejoin="round">
<path d="M580.80,88.40 L653.55,88.40 L653.80,87.40 L654.05,86.29 L654.30,85.33 L654.55,84.50 L654.80,83.78 L655.05,83.16 L655.30,82.62 L655.55,82.15 L655.80,81.75 L656.05,81.39 L656.30,81.09 L656.55,80.82 L656.80,80.59 L657.05,80.39 L657.30,80.22 L657.55,80.07 L657.80,79.94 L658.30,79.73 L658.80,79.57 L659.30,79.45 L659.80,79.35 L660.80,79.21 L661.80,79.09 L662.30,79.01 L662.80,78.92 L663.30,78.78 L663.80,78.58 L664.05,78.45 L664.30,78.29 L664.55,78.10 L664.80,77.88 L665.05,77.62 L665.30,77.31 L665.55,76.97 L665.80,76.57 L666.05,76.14 L666.30,75.67 L666.55,75.18 L666.80,74.66 L667.05,74.14 L667.30,73.63 L667.55,73.14 L667.80,72.68 L668.05,72.25 L668.30,71.87 L668.55,71.53 L668.80,71.24 L669.05,70.98 L669.30,70.77 L669.55,70.59 L669.80,70.44 L670.05,70.31 L670.55,70.12 L671.05,69.98 L671.80,69.82 L672.30,69.72 L672.80,69.60 L673.30,69.43 L673.80,69.17 L674.05,69.00 L674.30,68.79 L674.55,68.54 L674.80,68.24 L675.05,67.88 L675.30,67.46 L675.55,67.00 L675.80,66.48 L676.05,65.92 L676.30,65.34 L676.55,64.74 L676.80,64.16 L677.05,63.59 L677.30,63.06 L677.55,62.57 L677.80,62.13 L678.05,61.73 L678.30,61.37 L678.55,61.04 L678.80,60.72 L679.05,60.42 L679.30,60.11 L679.55,59.78 L679.80,59.43 L680.05,59.04 L680.30,58.61 L680.55,58.13 L680.80,57.59 L681.05,57.01 L681.30,56.39 L681.55,55.73 L681.80,55.06 L682.05,54.39 L682.30,53.73 L682.55,53.07 L682.80,52.44 L683.05,51.82 L683.30,51.21 L683.55,50.60 L683.80,49.98 L684.05,49.35 L684.30,48.70 L684.55,48.04 L684.80,47.38 L685.05,46.72 L685.30,46.08 L685.55,45.48 L685.80,44.92" stroke="#0000ff"/>
<path d="M580.80,88.40 L626.05,88.40 L626.30,87.40 L626.55,86.29 L626.80,85.33 L627.05,84.50 L627.30,83.78 L627.55,83.16 L627.80,82.62 L628.05,82.15 L628.30,81.75 L628.55,81.39 L628.80,81.09 L629.05,80.82 L629.30,80.59 L629.55,80.40 L629.80,80.22 L630.05,80.07 L630.30,79.94 L630.80,79.73 L631.30,79.58 L631.80,79.46 L632.30,79.37 L632.80,79.30 L634.55,79.17 L639.05,79.05 L639.55,79.01 L640.05,78.96 L640.55,78.87 L641.05,78.73 L641.55,78.52 L641.80,78.38 L642.05,78.20 L642.30,77.99 L642.55,77.74 L642.80,77.44 L643.05,77.09 L643.30,76.69 L643.55,76.24 L643.80,75.74 L644.05,75.22 L644.30,74.67 L644.55,74.12 L644.80,73.57 L645.05,73.06 L645.30,72.57 L645.55,72.13 L645.80,71.74 L646.05,71.40 L646.30,71.11 L646.55,70.86 L646.80,70.66 L647.05,70.49 L647.30,70.35 L647.80,70.15 L648.30,70.02 L648.80,69.94 L649.30,69.88 L651.80,69.75 L652.30,69.71 L652.80,69.65 L653.30,69.56 L653.80,69.42 L654.30,69.20 L654.55,69.05 L654.80,68.86 L655.05,68.64 L655.30,68.38 L655.55,68.07 L655.80,67.71 L656.05,67.30 L656.30,66.84 L656.55,66.34 L656.80,65.81 L657.05,65.26 L657.30,64.71 L657.55,64.17 L657.80,63.65 L658.05,63.18 L658.30,62.74 L658.55,62.36 L658.80,62.03 L659.05,61.75 L659.30,61.51 L659.55,61.31 L659.80,61.15 L660.05,61.01 L660.55,60.81 L661.05,60.67 L661.80,60.52 L662.55,60.38 L663.05,60.27 L663.55,60.11 L664.05,59.89 L664.30,59.74 L664.55,59.57 L664.80,59.36 L665.05,59.12 L665.30,58.83 L665.55,58.50 L665.80,58.13 L666.05,57.71 L666.30,57.26 L666.55,56.77 L666.80,56.26 L667.05,55.75 L667.30,55.23 L667.55,54.73 L667.80,54.25 L668.05,53.81 L668.30,53.42 L668.55,53.06 L668.80,52.75 L669.05,52.48 L669.30,52.25 L669.55,52.05 L669.80,51.89 L670.05,51.76 L670.55,51.55 L671.05,51.39 L671.80,51.22 L672.30,51.11 L672.80,50.98 L673.30,50.79 L673.55,50.67 L673.80,50.51 L674.05,50.33 L674.30,50.10 L674.55,49.83 L674.80,49.51 L675.05,49.13 L675.30,48.70 L675.55,48.21 L675.80,47.68 L676.05,47.12 L676.30,46.53 L676.55,45.95 L676.80,45.38 L677.05,44.84 L677.30,44.35 L677.55,43.91 L677.80,43.51 L678.05,43.17 L678.30,42.87 L678.55,42.61 L678.80,42.38 L679.05,42.17 L679.30,41.97 L679.55,41.78 L679.80,41.58 L680.05,41.37 L680.30,41.13 L680.55,40.86 L680.80,40.55 L681.05,40.19 L681.30,39.78 L681.55,39.32 L681.80,38.80 L682.05,38.24 L682.30,37.65 L682.55,37.04 L682.80,36.43 L683.05,35.84 L683.30,35.27 L683.55,34.73 L683.80,34.23 L684.05,33.77 L684.30,33.34 L684.55,32.92 L684.80,32.52 L685.05,32.12 L685.30,31.70 L685.55,31.25 L685.80,30.78" stroke="#053be6"/>
<path d="M580.80,88.40 L601.30,88.40 L601.55,87.16 L601.80,86.09 L602.05,85.16 L602.30,84.35 L602.55,83.65 L602.80,83.05 L603.05,82.52 L603.30,82.07 L603.55,81.67 L603.80,81.33 L604.05,81.03 L604.30,80.77 L604.55,80.55 L604.80,80.36 L605.05,80.19 L605.30,80.05 L605.55,79.92 L606.05,79.72 L606.55,79.56 L607.05,79.45 L607.55,79.36 L608.05,79.30 L609.80,79.17 L616.55,79.05 L617.05,79.02 L617.55,78.97 L618.05,78.89 L618.55,78.77 L619.05,78.57 L619.30,78.44 L619.55,78.28 L619.80,78.08 L620.05,77.84 L620.30,77.56 L620.55,77.23 L620.80,76.85 L621.05,76.42 L621.30,75.95 L621.55,75.43 L621.80,74.89 L622.05,74.34 L622.30,73.79 L622.55,73.26 L622.80,72.76 L623.05,72.30 L623.30,71.89 L623.55,71.53 L623.80,71.22 L624.05,70.96 L624.30,70.74 L624.55,70.55 L624.80,70.40 L625.05,70.28 L625.55,70.11 L626.05,69.99 L626.55,69.92 L627.05,69.87 L632.80,69.75 L633.30,69.71 L633.80,69.66 L634.30,69.58 L634.80,69.45 L635.30,69.25 L635.55,69.11 L635.80,68.94 L636.05,68.74 L636.30,68.49 L636.55,68.20 L636.80,67.86 L637.05,67.47 L637.30,67.03 L637.55,66.55 L637.80,66.03 L638.05,65.48 L638.30,64.93 L638.55,64.38 L638.80,63.86 L639.05,63.36 L639.30,62.91 L639.55,62.51 L639.80,62.16 L640.05,61.86 L640.30,61.61 L640.55,61.40 L640.80,61.22 L641.05,61.08 L641.55,60.87 L642.05,60.73 L642.55,60.64 L643.05,60.59 L646.05,60.47 L646.80,60.42 L647.30,60.38 L647.80,60.30 L648.30,60.18 L648.80,60.00 L649.05,59.87 L649.30,59.71 L649.55,59.52 L649.80,59.30 L650.05,59.02 L650.30,58.70 L650.55,58.33 L650.80,57.91 L651.05,57.44 L651.30,56.94 L651.55,56.40 L651.80,55.85 L652.05,55.30 L652.30,54.76 L652.55,54.25 L652.80,53.79 L653.05,53.37 L653.30,52.99 L653.55,52.67 L653.80,52.40 L654.05,52.17 L654.30,51.98 L654.55,51.82 L654.80,51.69 L655.30,51.50 L655.80,51.37 L656.30,51.28 L657.30,51.14 L657.80,51.07 L658.30,50.96 L658.80,50.82 L659.30,50.61 L659.55,50.47 L659.80,50.30 L660.05,50.10 L660.30,49.87 L660.55,49.59 L660.80,49.27 L661.05,48.91 L661.30,48.50 L661.55,48.05 L661.80,47.57 L662.05,47.07 L662.30,46.55 L662.55,46.03 L662.80,45.53 L663.05,45.05 L663.30,44.60 L663.55,44.19 L663.80,43.83 L664.05,43.51 L664.30,43.23 L664.55,42.99 L664.80,42.79 L665.05,42.62 L665.30,42.48 L665.80,42.26 L666.30,42.11 L666.80,41.99 L667.55,41.84 L668.05,41.73 L668.55,41.59 L669.05,41.40 L669.30,41.27 L669.55,41.12 L669.80,40.93 L670.05,40.72 L670.30,40.47 L670.55,40.17 L670.80,39.83 L671.05,39.45 L671.30,39.02 L671.55,38.56 L671.80,38.07 L672.05,37.56 L672.30,37.04 L672.55,36.52 L672.80,36.02 L673.05,35.55 L673.30,35.12 L673.55,34.72 L673.80,34.37 L674.05,34.06 L674.30,33.78 L674.55,33.55 L674.80,33.35 L675.05,33.17 L675.30,33.01 L675.55,32.87 L675.80,32.73 L676.05,32.60 L676.30,32.46 L676.55,32.31 L676.80,32.15 L677.05,31.96 L677.30,31.75 L677.55,31.49 L677.80,31.19 L678.05,30.83 L678.30,30.42 L678.55,29.96 L678.80,29.44 L679.05,28.87 L679.30,28.26 L679.55,27.63 L679.80,26.99 L680.05,26.35 L680.30,25.74 L680.55,25.14 L680.80,24.57 L681.05,24.02 L681.30,23.48 L681.55,22.95 L681.80,22.40 L682.05,21.84 L682.30,21.25 L682.55,20.63 L682.80,19.98 L683.05,19.31 L683.30,18.63 L683.55,17.95 L683.80,17.27 L684.05,16.62 L684.30,15.99 L684.55,15.39 L684.80,14.82 L685.05,14.25 L685.30,13.70 L685.55,13.14 L685.80,12.57" stroke="#0873c4"/>
<path d="M580.80,88.40 L581.30,88.40 L581.55,87.16 L581.80,86.09 L582.05,85.16 L582.30,84.35 L582.55,83.65 L582.80,83.05 L583.05,82.52 L583.30,82.07 L583.55,81.67 L583.80,81.33 L584.05,81.03 L584.30,80.77 L584.55,80.55 L584.80,80.36 L585.05,80.19 L585.30,80.05 L585.55,79.92 L586.05,79.72 L586.55,79.56 L587.05,79.45 L587.55,79.36 L588.05,79.30 L589.80,79.17 L597.55,79.05 L598.05,79.02 L598.55,78.97 L599.05,78.89 L599.55,78.76 L600.05,78.57 L600.30,78.44 L600.55,78.28 L600.80,78.08 L601.05,77.84 L601.30,77.56 L601.55,77.23 L601.80,76.85 L602.05,76.42 L602.30,75.95 L602.55,75.43 L602.80,74.89 L603.05,74.34 L603.30,73.79 L603.55,73.26 L603.80,72.76 L604.05,72.30 L604.30,71.89 L604.55,71.53 L604.80,71.22 L605.05,70.96 L605.30,70.74 L605.55,70.55 L605.80,70.40 L606.05,70.28 L606.55,70.11 L607.05,69.99 L607.55,69.92 L608.05,69.88 L615.55,69.75 L616.05,69.72 L616.55,69.67 L617.05,69.59 L617.55,69.46 L618.05,69.27 L618.30,69.14 L618.55,68.98 L618.80,68.78 L619.05,68.54 L619.30,68.26 L619.55,67.93 L619.80,67.55 L620.05,67.12 L620.30,66.65 L620.55,66.13 L620.80,65.59 L621.05,65.04 L621.30,64.49 L621.55,63.96 L621.80,63.46 L622.05,63.00 L622.30,62.59 L622.55,62.23 L622.80,61.92 L623.05,61.66 L623.30,61.44 L623.55,61.25 L623.80,61.10 L624.05,60.98 L624.55,60.81 L625.05,60.69 L625.55,60.62 L626.05,60.58 L632.55,60.44 L633.05,60.41 L633.55,60.35 L634.05,60.27 L634.55,60.13 L635.05,59.92 L635.30,59.78 L635.55,59.60 L635.80,59.39 L636.05,59.14 L636.30,58.84 L636.55,58.49 L636.80,58.08 L637.05,57.64 L637.30,57.14 L637.55,56.62 L637.80,56.07 L638.05,55.52 L638.30,54.97 L638.55,54.45 L638.80,53.97 L639.05,53.53 L639.30,53.14 L639.55,52.80 L639.80,52.51 L640.05,52.26 L640.30,52.06 L640.55,51.89 L640.80,51.75 L641.30,51.55 L641.80,51.42 L642.30,51.34 L642.80,51.28 L645.55,51.15 L646.05,51.11 L646.55,51.06 L647.05,50.97 L647.55,50.83 L648.05,50.62 L648.30,50.48 L648.55,50.30 L648.80,50.09 L649.05,49.84 L649.30,49.54 L649.55,49.19 L649.80,48.78 L650.05,48.34 L650.30,47.84 L650.55,47.32 L650.80,46.77 L651.05,46.22 L651.30,45.67 L651.55,45.15 L651.80,44.67 L652.05,44.23 L652.30,43.84 L652.55,43.50 L652.80,43.21 L653.05,42.96 L653.30,42.76 L653.55,42.59 L653.80,42.45 L654.30,42.24 L654.80,42.11 L655.30,42.02 L656.55,41.89 L657.55,41.78 L658.05,41.71 L658.55,41.59 L659.05,41.42 L659.55,41.17 L659.80,41.00 L660.05,40.80 L660.30,40.57 L660.55,40.29 L660.80,39.97 L661.05,39.61 L661.30,39.20 L661.55,38.75 L661.80,38.27 L662.05,37.77 L662.30,37.25 L662.55,36.73 L662.80,36.23 L663.05,35.75 L663.30,35.30 L663.55,34.89 L663.80,34.53 L664.05,34.21 L664.30,33.93 L664.55,33.69 L664.80,33.49 L665.05,33.32 L665.30,33.18 L665.80,32.96 L666.30,32.81 L666.80,32.69 L667.55,32.54 L668.05,32.43 L668.55,32.29 L669.05,32.10 L669.30,31.97 L669.55,31.82 L669.80,31.63 L670.05,31.42 L670.30,31.16 L670.55,30.87 L670.80,30.53 L671.05,30.15 L671.30,29.72 L671.55,29.26 L671.80,28.77 L672.05,28.25 L672.30,27.73 L672.55,27.22 L672.80,26.72 L673.05,26.24 L673.30,25.80 L673.55,25.40 L673.80,25.05 L674.05,24.73 L674.30,24.45 L674.55,24.21 L674.80,23.99 L675.05,23.80 L675.30,23.62 L675.55,23.46 L675.80,23.29 L676.05,23.12 L676.30,22.94 L676.55,22.74 L676.80,22.51 L677.05,22.25 L677.30,21.94 L677.55,21.59 L677.80,21.18 L678.05,20.72 L678.30,20.20 L678.55,19.64 L678.80,19.05 L679.05,18.44 L679.30,17.83 L679.55,17.23 L679.80,16.66 L680.05,16.12 L680.30,15.62 L680.55,15.16 L680.80,14.72 L681.05,14.30 L681.30,13.89 L681.55,13.48 L681.80,13.05 L682.05,12.59 L682.30,12.10 L682.55,11.56 L682.80,10.98 L683.05,10.36 L683.30,9.71 L683.55,9.05 L683.80,8.37 L684.05,7.70 L684.30,7.04 L684.55,6.41 L684.80,5.79 L685.05,5.19 L685.30,4.60 L685.55,4.01 L685.80,3.41" stroke="#08a8a6"/>
<path d="M580.80,78.44 L581.05,78.28 L581.30,78.08 L581.55,77.84 L581.80,77.56 L582.05,77.23 L582.30,76.85 L582.55,76.42 L582.80,75.95 L583.05,75.43 L583.30,74.89 L583.55,74.34 L583.80,73.79 L584.05,73.26 L584.30,72.76 L584.55,72.30 L584.80,71.89 L585.05,71.53 L585.30,71.22 L585.55,70.96 L585.80,70.74 L586.05,70.55 L586.30,70.40 L586.55,70.28 L587.05,70.11 L587.55,69.99 L588.05,69.92 L588.55,69.88 L599.05,69.75 L599.55,69.72 L600.05,69.67 L600.55,69.59 L601.05,69.46 L601.55,69.27 L601.80,69.14 L602.05,68.98 L602.30,68.78 L602.55,68.54 L602.80,68.26 L603.05,67.93 L603.30,67.55 L603.55,67.12 L603.80,66.65 L604.05,66.13 L604.30,65.59 L604.55,65.04 L604.80,64.49 L605.05,63.96 L605.30,63.46 L605.55,63.00 L605.80,62.59 L606.05,62.23 L606.30,61.92 L606.55,61.66 L606.80,61.44 L607.05,61.25 L607.30,61.10 L607.55,60.98 L608.05,60.81 L608.55,60.69 L609.05,60.62 L609.55,60.58 L616.80,60.45 L617.30,60.42 L617.80,60.37 L618.30,60.30 L618.80,60.18 L619.30,59.99 L619.55,59.87 L619.80,59.71 L620.05,59.52 L620.30,59.29 L620.55,59.02 L620.80,58.70 L621.05,58.33 L621.30,57.91 L621.55,57.44 L621.80,56.94 L622.05,56.40 L622.30,55.85 L622.55,55.30 L622.80,54.76 L623.05,54.26 L623.30,53.79 L623.55,53.37 L623.80,53.00 L624.05,52.68 L624.30,52.40 L624.55,52.18 L624.80,51.99 L625.05,51.83 L625.30,51.71 L625.80,51.52 L626.30,51.40 L626.80,51.33 L627.30,51.28 L632.30,51.16 L633.05,51.11 L633.55,51.05 L634.05,50.97 L634.55,50.83 L635.05,50.62 L635.30,50.48 L635.55,50.30 L635.80,50.09 L636.05,49.84 L636.30,49.54 L636.55,49.19 L636.80,48.78 L637.05,48.34 L637.30,47.84 L637.55,47.32 L637.80,46.77 L638.05,46.22 L638.30,45.67 L638.55,45.15 L638.80,44.67 L639.05,44.23 L639.30,43.84 L639.55,43.50 L639.80,43.21 L640.05,42.96 L640.30,42.76 L640.55,42.59 L640.80,42.45 L641.30,42.25 L641.80,42.12 L642.30,42.04 L642.80,41.98 L646.05,41.85 L646.55,41.82 L647.05,41.77 L647.55,41.69 L648.05,41.57 L648.55,41.37 L648.80,41.24 L649.05,41.08 L649.30,40.88 L649.55,40.64 L649.80,40.36 L650.05,40.03 L650.30,39.65 L650.55,39.22 L650.80,38.74 L651.05,38.23 L651.30,37.69 L651.55,37.14 L651.80,36.59 L652.05,36.06 L652.30,35.56 L652.55,35.10 L652.80,34.69 L653.05,34.33 L653.30,34.02 L653.55,33.75 L653.80,33.53 L654.05,33.35 L654.30,33.20 L654.55,33.07 L655.05,32.89 L655.55,32.77 L656.05,32.69 L657.30,32.54 L657.80,32.47 L658.30,32.38 L658.80,32.25 L659.30,32.06 L659.55,31.93 L659.80,31.77 L660.05,31.59 L660.30,31.37 L660.55,31.11 L660.80,30.80 L661.05,30.46 L661.30,30.07 L661.55,29.63 L661.80,29.17 L662.05,28.67 L662.30,28.16 L662.55,27.64 L662.80,27.12 L663.05,26.63 L663.30,26.17 L663.55,25.75 L663.80,25.36 L664.05,25.02 L664.30,24.73 L664.55,24.47 L664.80,24.26 L665.05,24.07 L665.30,23.92 L665.55,23.79 L666.05,23.58 L666.55,23.42 L667.05,23.29 L667.55,23.15 L668.05,22.98 L668.55,22.76 L668.80,22.62 L669.05,22.46 L669.30,22.26 L669.55,22.03 L669.80,21.76 L670.05,21.45 L670.30,21.09 L670.55,20.69 L670.80,20.25 L671.05,19.77 L671.30,19.27 L671.55,18.75 L671.80,18.23 L672.05,17.72 L672.30,17.23 L672.55,16.77 L672.80,16.35 L673.05,15.98 L673.30,15.64 L673.55,15.35 L673.80,15.09 L674.05,14.87 L674.30,14.68 L674.55,14.51 L674.80,14.37 L675.05,14.23 L675.30,14.10 L675.55,13.98 L675.80,13.85 L676.05,13.70 L676.30,13.55 L676.55,13.36 L676.80,13.15 L677.05,12.90 L677.30,12.60 L677.55,12.25 L677.80,11.85 L678.05,11.39 L678.30,10.88 L678.55,10.33 L678.80,9.74 L679.05,9.14 L679.30,8.53 L679.55,7.93 L679.80,7.36 L680.05,6.82 L680.30,6.32 L680.55,5.85 L680.80,5.42 L681.05,5.00 L681.30,4.59 L681.55,4.18 L681.80,3.75 L682.05,3.29 L682.30,2.79 L682.55,2.26 L682.80,1.68 L683.05,1.06 L683.30,0.41 L683.55,-0.25 L683.80,-0.93 L684.05,-1.60 L684.30,-2.26 L684.55,-2.89 L684.80,-3.51 L685.05,-4.11 L685.30,-4.70 L685.55,-5.29 L685.80,-5.89" stroke="#08e685"/>
</g>
<text transform="translate(613.20,120.70) scale(1.0000,1.0000)" font-family="Liberation Sans" font-size="11.73" font-weight="normal" font-style="normal" fill="#262626" stroke="#262626" stroke-width="0.10">V</text>
<text transform="translate(620.40,126.01) scale(1.0000,1.0000)" font-family="Liberation Sans" font-size="9.40" font-weight="normal" font-style="normal" fill="#262626" stroke="#262626" stroke-width="0.10">S</text>
<text transform="translate(630.45,120.44) scale(1.0000,1.0000)" font-family="Liberation Sans" font-size="11.73" font-weight="normal" font-style="normal" fill="#262626" stroke="#262626" stroke-width="0.10">[ V ]</text>
<text transform="translate(557.60,75.20) rotate(-90) scale(1.0000,1.0000)" font-family="Liberation Sans" font-size="11.73" font-weight="normal" font-style="normal" fill="#262626" stroke="#262626" stroke-width="0.10">G [ e</text>
<text transform="translate(553.00,50.20) rotate(-90) scale(0.9274,1.0000)" font-family="Liberation Sans" font-size="9.71" font-weight="normal" font-style="normal" fill="#262626" stroke="#262626" stroke-width="0.10">2</text>
<text transform="translate(557.60,44.60) rotate(-90) scale(1.0000,1.0000)" font-family="Liberation Sans" font-size="11.73" font-weight="normal" font-style="normal" fill="#262626" stroke="#262626" stroke-width="0.10">/h ]</text>
<defs><clipPath id="cl1"><rect x="580.5" y="142.20000000000002" width="103.3" height="75.2"/></clipPath></defs>
<path d="M580.8,207.15 H683.8" stroke="#4a4a4a" stroke-width="0.75" stroke-dasharray="3.4 1.45" fill="none" opacity="0.78"/>
<path d="M580.8,197.90 H683.8" stroke="#4a4a4a" stroke-width="0.75" stroke-dasharray="3.4 1.45" fill="none" opacity="0.78"/>
<path d="M580.8,188.65 H683.8" stroke="#4a4a4a" stroke-width="0.75" stroke-dasharray="3.4 1.45" fill="none" opacity="0.78"/>
<path d="M580.8,179.40 H683.8" stroke="#4a4a4a" stroke-width="0.75" stroke-dasharray="3.4 1.45" fill="none" opacity="0.78"/>
<path d="M580.8,170.15 H683.8" stroke="#4a4a4a" stroke-width="0.75" stroke-dasharray="3.4 1.45" fill="none" opacity="0.78"/>
<path d="M580.8,160.90 H683.8" stroke="#4a4a4a" stroke-width="0.75" stroke-dasharray="3.4 1.45" fill="none" opacity="0.78"/>
<path d="M580.8,151.65 H683.8" stroke="#4a4a4a" stroke-width="0.75" stroke-dasharray="3.4 1.45" fill="none" opacity="0.78"/>
<path d="M580.8,142.50 H683.8" stroke="#4a4a4a" stroke-width="0.8" stroke-dasharray="3.4 1.45" fill="none" opacity="0.36"/>
<path d="M580.8,142.0 V216.4 H683.9" stroke="#262626" stroke-width="1.0" fill="none"/>
<path d="M578.0999999999999,216.40 H580.8" stroke="#262626" stroke-width="1.0"/>
<text transform="translate(568.89,220.75) scale(1.0000,1.0000)" font-family="Liberation Sans" font-size="11.00" font-weight="normal" font-style="normal" fill="#262626" stroke="#262626" stroke-width="0.10">0</text>
<path d="M578.0999999999999,197.90 H580.8" stroke="#262626" stroke-width="1.0"/>
<text transform="translate(568.89,202.25) scale(1.0000,1.0000)" font-family="Liberation Sans" font-size="11.00" font-weight="normal" font-style="normal" fill="#262626" stroke="#262626" stroke-width="0.10">4</text>
<path d="M578.0999999999999,179.40 H580.8" stroke="#262626" stroke-width="1.0"/>
<text transform="translate(568.89,183.75) scale(1.0000,1.0000)" font-family="Liberation Sans" font-size="11.00" font-weight="normal" font-style="normal" fill="#262626" stroke="#262626" stroke-width="0.10">8</text>
<path d="M578.0999999999999,160.90 H580.8" stroke="#262626" stroke-width="1.0"/>
<text transform="translate(562.79,165.30) scale(1.0000,1.0000)" font-family="Liberation Sans" font-size="11.00" font-weight="normal" font-style="normal" fill="#262626" stroke="#262626" stroke-width="0.10">12</text>
<path d="M578.0999999999999,142.40 H580.8" stroke="#262626" stroke-width="1.0"/>
<text transform="translate(562.79,146.75) scale(1.0000,1.0000)" font-family="Liberation Sans" font-size="11.00" font-weight="normal" font-style="normal" fill="#262626" stroke="#262626" stroke-width="0.10">16</text>
<path d="M598.00,216.4 V219.0" stroke="#262626" stroke-width="1.0"/>
<text transform="translate(590.25,234.10) scale(1.0000,1.0000)" font-family="Liberation Sans" font-size="11.00" font-weight="normal" font-style="normal" fill="#262626" stroke="#262626" stroke-width="0.10">0.2</text>
<path d="M632.20,216.4 V219.0" stroke="#262626" stroke-width="1.0"/>
<text transform="translate(624.45,234.10) scale(1.0000,1.0000)" font-family="Liberation Sans" font-size="11.00" font-weight="normal" font-style="normal" fill="#262626" stroke="#262626" stroke-width="0.10">0.4</text>
<path d="M666.40,216.4 V219.0" stroke="#262626" stroke-width="1.0"/>
<text transform="translate(658.65,234.10) scale(1.0000,1.0000)" font-family="Liberation Sans" font-size="11.00" font-weight="normal" font-style="normal" fill="#262626" stroke="#262626" stroke-width="0.10">0.6</text>
<g clip-path="url(#cl1)" fill="none" stroke-width="1.35" stroke-linejoin="round">
<path d="M580.80,216.40 L594.55,216.40 L595.05,215.11 L595.30,214.05 L595.55,213.13 L595.80,212.33 L596.05,211.64 L596.30,211.05 L596.55,210.53 L596.80,210.08 L597.05,209.69 L597.30,209.35 L597.55,209.06 L597.80,208.80 L598.05,208.58 L598.30,208.39 L598.55,208.23 L598.80,208.08 L599.05,207.96 L599.55,207.75 L600.05,207.60 L600.55,207.48 L601.30,207.32 L601.80,207.22 L602.30,207.09 L602.80,206.88 L603.05,206.73 L603.30,206.54 L603.55,206.28 L603.80,205.96 L604.05,205.54 L604.30,205.03 L604.55,204.41 L604.80,203.72 L605.05,202.96 L605.30,202.18 L605.55,201.42 L605.80,200.72 L606.05,200.11 L606.30,199.59 L606.55,199.18 L606.80,198.85 L607.05,198.60 L607.30,198.41 L607.55,198.27 L608.05,198.09 L608.55,197.99 L609.80,197.85 L610.30,197.79 L610.80,197.70 L611.30,197.56 L611.80,197.32 L612.05,197.15 L612.30,196.93 L612.55,196.67 L612.80,196.34 L613.05,195.95 L613.30,195.49 L613.55,194.97 L613.80,194.39 L614.05,193.77 L614.30,193.13 L614.55,192.50 L614.80,191.90 L615.05,191.35 L615.30,190.85 L615.55,190.42 L615.80,190.06 L616.05,189.76 L616.30,189.52 L616.55,189.32 L616.80,189.17 L617.05,189.05 L617.55,188.88 L618.05,188.78 L618.55,188.72 L621.05,188.60 L621.55,188.57 L622.05,188.52 L622.55,188.44 L623.05,188.32 L623.55,188.13 L623.80,188.00 L624.05,187.84 L624.30,187.65 L624.55,187.42 L624.80,187.15 L625.05,186.83 L625.30,186.47 L625.55,186.06 L625.80,185.60 L626.05,185.10 L626.30,184.58 L626.55,184.04 L626.80,183.50 L627.05,182.98 L627.30,182.48 L627.55,182.02 L627.80,181.60 L628.05,181.23 L628.30,180.91 L628.55,180.64 L628.80,180.41 L629.05,180.22 L629.30,180.06 L629.55,179.93 L630.05,179.74 L630.55,179.61 L631.05,179.53 L631.55,179.48 L633.80,179.35 L634.80,179.28 L635.30,179.21 L635.80,179.12 L636.30,178.99 L636.80,178.79 L637.05,178.67 L637.30,178.52 L637.55,178.34 L637.80,178.13 L638.05,177.89 L638.30,177.62 L638.55,177.31 L638.80,176.96 L639.05,176.58 L639.30,176.17 L639.55,175.73 L639.80,175.27 L640.05,174.80 L640.30,174.34 L640.55,173.88 L640.80,173.44 L641.05,173.02 L641.30,172.63 L641.55,172.28 L641.80,171.97 L642.05,171.69 L642.30,171.45 L642.55,171.24 L642.80,171.06 L643.05,170.90 L643.30,170.77 L643.80,170.57 L644.30,170.44 L644.80,170.34 L645.30,170.28 L647.55,170.15 L650.30,170.01 L650.80,169.96 L651.30,169.87 L651.80,169.76 L652.30,169.60 L652.80,169.38 L653.05,169.24 L653.30,169.08 L653.55,168.90 L653.80,168.70 L654.05,168.46 L654.30,168.20 L654.55,167.91 L654.80,167.59 L655.05,167.25 L655.30,166.88 L655.55,166.49 L655.80,166.09 L656.05,165.67 L656.30,165.26 L656.55,164.85 L656.80,164.45 L657.05,164.07 L657.30,163.70 L657.55,163.37 L657.80,163.06 L658.05,162.77 L658.30,162.52 L658.55,162.29 L658.80,162.09 L659.05,161.92 L659.30,161.77 L659.55,161.64 L660.05,161.43 L660.55,161.27 L661.05,161.16 L661.55,161.09 L663.05,160.96 L667.30,160.84 L668.80,160.73 L669.30,160.66 L669.80,160.57 L670.30,160.46 L670.80,160.30 L671.30,160.09 L671.55,159.96 L671.80,159.82 L672.05,159.66 L672.30,159.47 L672.55,159.27 L672.80,159.04 L673.05,158.79 L673.30,158.52 L673.55,158.23 L673.80,157.91 L674.05,157.58 L674.30,157.23 L674.55,156.87 L674.80,156.50 L675.05,156.13 L675.30,155.76 L675.55,155.39 L675.80,155.04 L676.05,154.70 L676.30,154.39 L676.55,154.09 L676.80,153.81 L677.05,153.55 L677.30,153.32 L677.55,153.11 L677.80,152.93 L678.05,152.76 L678.30,152.61 L678.55,152.48 L679.05,152.27 L679.55,152.11 L680.05,151.98 L680.55,151.89 L681.05,151.82 L682.80,151.69 L685.80,151.57" stroke="#ffd608"/>
<path d="M580.80,216.40 L602.05,216.40 L602.30,215.59 L602.55,214.47 L602.80,213.49 L603.05,212.65 L603.30,211.92 L603.55,211.28 L603.80,210.73 L604.05,210.26 L604.30,209.84 L604.55,209.48 L604.80,209.17 L605.05,208.90 L605.30,208.67 L605.55,208.47 L605.80,208.29 L606.05,208.14 L606.30,208.01 L606.80,207.79 L607.30,207.63 L607.80,207.51 L608.30,207.42 L609.30,207.29 L610.55,207.16 L611.05,207.08 L611.55,206.95 L612.05,206.72 L612.30,206.55 L612.55,206.31 L612.80,206.01 L613.05,205.62 L613.30,205.14 L613.55,204.55 L613.80,203.88 L614.05,203.14 L614.30,202.36 L614.55,201.60 L614.80,200.88 L615.05,200.25 L615.30,199.71 L615.55,199.27 L615.80,198.92 L616.05,198.65 L616.30,198.45 L616.55,198.30 L617.05,198.11 L617.55,198.01 L618.05,197.96 L622.05,197.84 L622.55,197.79 L623.05,197.71 L623.55,197.58 L624.05,197.35 L624.30,197.19 L624.55,196.99 L624.80,196.74 L625.05,196.43 L625.30,196.05 L625.55,195.61 L625.80,195.10 L626.05,194.54 L626.30,193.93 L626.55,193.29 L626.80,192.66 L627.05,192.05 L627.30,191.48 L627.55,190.97 L627.80,190.52 L628.05,190.14 L628.30,189.83 L628.55,189.57 L628.80,189.37 L629.05,189.21 L629.30,189.08 L629.80,188.90 L630.30,188.80 L630.80,188.73 L634.80,188.61 L635.55,188.57 L636.05,188.52 L636.55,188.44 L637.05,188.32 L637.55,188.14 L637.80,188.01 L638.05,187.86 L638.30,187.67 L638.55,187.44 L638.80,187.18 L639.05,186.86 L639.30,186.50 L639.55,186.09 L639.80,185.64 L640.05,185.15 L640.30,184.63 L640.55,184.09 L640.80,183.55 L641.05,183.02 L641.30,182.52 L641.55,182.06 L641.80,181.64 L642.05,181.26 L642.30,180.94 L642.55,180.66 L642.80,180.43 L643.05,180.23 L643.30,180.07 L643.55,179.94 L644.05,179.75 L644.55,179.62 L645.05,179.54 L645.55,179.49 L650.30,179.36 L651.55,179.29 L652.05,179.24 L652.55,179.16 L653.05,179.04 L653.55,178.87 L654.05,178.63 L654.30,178.47 L654.55,178.28 L654.80,178.07 L655.05,177.82 L655.30,177.54 L655.55,177.22 L655.80,176.86 L656.05,176.47 L656.30,176.05 L656.55,175.60 L656.80,175.14 L657.05,174.67 L657.30,174.21 L657.55,173.75 L657.80,173.31 L658.05,172.91 L658.30,172.53 L658.55,172.19 L658.80,171.88 L659.05,171.62 L659.30,171.38 L659.55,171.18 L659.80,171.01 L660.05,170.86 L660.30,170.74 L660.80,170.55 L661.30,170.42 L661.80,170.33 L662.30,170.27 L666.05,170.15 L670.80,170.01 L671.30,169.96 L671.80,169.88 L672.30,169.76 L672.80,169.60 L673.30,169.39 L673.55,169.25 L673.80,169.10 L674.05,168.92 L674.30,168.71 L674.55,168.48 L674.80,168.22 L675.05,167.93 L675.30,167.62 L675.55,167.28 L675.80,166.91 L676.05,166.52 L676.30,166.12 L676.55,165.71 L676.80,165.29 L677.05,164.88 L677.30,164.48 L677.55,164.10 L677.80,163.73 L678.05,163.39 L678.30,163.08 L678.55,162.79 L678.80,162.54 L679.05,162.31 L679.30,162.11 L679.55,161.93 L679.80,161.78 L680.05,161.65 L680.55,161.43 L681.05,161.28 L681.55,161.17 L682.05,161.09 L682.55,161.03 L685.30,160.91 L685.80,160.89" stroke="#ffa108"/>
<path d="M580.80,216.40 L609.80,216.40 L610.05,215.33 L610.30,214.24 L610.55,213.30 L610.80,212.48 L611.05,211.77 L611.30,211.15 L611.55,210.62 L611.80,210.16 L612.05,209.76 L612.30,209.41 L612.55,209.11 L612.80,208.85 L613.05,208.62 L613.30,208.43 L613.55,208.26 L613.80,208.11 L614.05,207.98 L614.55,207.78 L615.05,207.62 L615.55,207.50 L616.05,207.42 L616.55,207.35 L618.30,207.22 L621.30,207.12 L621.80,207.08 L622.30,207.01 L622.80,206.87 L623.30,206.61 L623.55,206.41 L623.80,206.14 L624.05,205.80 L624.30,205.36 L624.55,204.82 L624.80,204.19 L625.05,203.48 L625.30,202.71 L625.55,201.94 L625.80,201.20 L626.05,200.52 L626.30,199.94 L626.55,199.45 L626.80,199.07 L627.05,198.77 L627.30,198.54 L627.55,198.36 L627.80,198.24 L628.30,198.07 L628.80,197.99 L629.30,197.95 L635.30,197.84 L635.80,197.80 L636.30,197.73 L636.80,197.61 L637.30,197.40 L637.55,197.25 L637.80,197.07 L638.05,196.83 L638.30,196.54 L638.55,196.19 L638.80,195.77 L639.05,195.29 L639.30,194.74 L639.55,194.14 L639.80,193.52 L640.05,192.88 L640.30,192.26 L640.55,191.67 L640.80,191.14 L641.05,190.67 L641.30,190.27 L641.55,189.93 L641.80,189.66 L642.05,189.44 L642.30,189.26 L642.55,189.12 L643.05,188.93 L643.55,188.81 L644.05,188.74 L644.55,188.70 L652.80,188.57 L653.30,188.52 L653.80,188.45 L654.30,188.33 L654.80,188.15 L655.05,188.02 L655.30,187.87 L655.55,187.69 L655.80,187.47 L656.05,187.20 L656.30,186.89 L656.55,186.54 L656.80,186.13 L657.05,185.68 L657.30,185.19 L657.55,184.67 L657.80,184.13 L658.05,183.59 L658.30,183.07 L658.55,182.56 L658.80,182.09 L659.05,181.67 L659.30,181.29 L659.55,180.97 L659.80,180.68 L660.05,180.45 L660.30,180.25 L660.55,180.08 L660.80,179.95 L661.30,179.75 L661.80,179.62 L662.30,179.54 L662.80,179.49 L667.30,179.36 L668.55,179.30 L669.05,179.25 L669.55,179.18 L670.05,179.07 L670.55,178.91 L671.05,178.68 L671.30,178.53 L671.55,178.36 L671.80,178.16 L672.05,177.92 L672.30,177.65 L672.55,177.35 L672.80,177.01 L673.05,176.63 L673.30,176.22 L673.55,175.78 L673.80,175.33 L674.05,174.86 L674.30,174.39 L674.55,173.93 L674.80,173.49 L675.05,173.07 L675.30,172.68 L675.55,172.32 L675.80,172.00 L676.05,171.72 L676.30,171.47 L676.55,171.26 L676.80,171.08 L677.05,170.92 L677.30,170.79 L677.80,170.58 L678.30,170.44 L678.80,170.35 L679.30,170.28 L682.05,170.16 L685.80,170.12" stroke="#ff6b08"/>
<path d="M580.80,216.40 L618.55,216.40 L618.80,216.02 L619.05,214.84 L619.30,213.82 L619.55,212.93 L619.80,212.16 L620.05,211.49 L620.30,210.92 L620.55,210.41 L620.80,209.98 L621.05,209.60 L621.30,209.28 L621.55,208.99 L621.80,208.75 L622.05,208.54 L622.30,208.35 L622.55,208.19 L622.80,208.05 L623.05,207.93 L623.55,207.74 L624.05,207.59 L624.55,207.48 L625.05,207.40 L626.30,207.27 L632.30,207.15 L634.30,207.10 L634.80,207.05 L635.30,206.96 L635.80,206.79 L636.05,206.65 L636.30,206.47 L636.55,206.23 L636.80,205.91 L637.05,205.50 L637.30,204.99 L637.55,204.39 L637.80,203.70 L638.05,202.94 L638.30,202.17 L638.55,201.41 L638.80,200.72 L639.05,200.10 L639.30,199.59 L639.55,199.17 L639.80,198.85 L640.05,198.60 L640.30,198.41 L640.55,198.27 L641.05,198.09 L641.55,198.00 L642.05,197.95 L652.55,197.83 L653.05,197.78 L653.55,197.70 L654.05,197.55 L654.55,197.32 L654.80,197.15 L655.05,196.93 L655.30,196.66 L655.55,196.34 L655.80,195.95 L656.05,195.49 L656.30,194.97 L656.55,194.39 L656.80,193.77 L657.05,193.13 L657.30,192.50 L657.55,191.90 L657.80,191.35 L658.05,190.85 L658.30,190.42 L658.55,190.06 L658.80,189.76 L659.05,189.52 L659.30,189.32 L659.55,189.17 L659.80,189.05 L660.30,188.89 L660.80,188.79 L661.30,188.73 L667.05,188.60 L667.80,188.56 L668.30,188.51 L668.80,188.42 L669.30,188.29 L669.80,188.09 L670.05,187.95 L670.30,187.78 L670.55,187.58 L670.80,187.34 L671.05,187.06 L671.30,186.72 L671.55,186.34 L671.80,185.91 L672.05,185.44 L672.30,184.94 L672.55,184.41 L672.80,183.87 L673.05,183.33 L673.30,182.81 L673.55,182.33 L673.80,181.88 L674.05,181.48 L674.30,181.13 L674.55,180.82 L674.80,180.56 L675.05,180.34 L675.30,180.16 L675.55,180.02 L675.80,179.89 L676.30,179.72 L676.80,179.60 L677.30,179.53 L677.80,179.48 L685.55,179.35 L685.80,179.34" stroke="#ff3808"/>
<path d="M580.80,216.40 L628.80,216.40 L629.05,215.24 L629.30,214.17 L629.55,213.23 L629.80,212.42 L630.05,211.72 L630.30,211.11 L630.55,210.58 L630.80,210.13 L631.05,209.73 L631.30,209.39 L631.55,209.09 L631.80,208.83 L632.05,208.61 L632.30,208.41 L632.55,208.25 L632.80,208.10 L633.05,207.97 L633.55,207.77 L634.05,207.61 L634.55,207.50 L635.05,207.41 L635.55,207.35 L637.30,207.22 L643.55,207.11 L644.05,207.07 L644.55,207.00 L645.05,206.86 L645.55,206.59 L645.80,206.39 L646.05,206.11 L646.30,205.76 L646.55,205.32 L646.80,204.77 L647.05,204.13 L647.30,203.42 L647.55,202.65 L647.80,201.88 L648.05,201.14 L648.30,200.47 L648.55,199.90 L648.80,199.42 L649.05,199.04 L649.30,198.74 L649.55,198.52 L649.80,198.35 L650.05,198.23 L650.55,198.07 L651.05,197.99 L651.55,197.94 L661.80,197.84 L662.30,197.80 L662.80,197.73 L663.30,197.61 L663.80,197.40 L664.05,197.26 L664.30,197.07 L664.55,196.84 L664.80,196.55 L665.05,196.20 L665.30,195.78 L665.55,195.30 L665.80,194.75 L666.05,194.16 L666.30,193.53 L666.55,192.89 L666.80,192.27 L667.05,191.68 L667.30,191.15 L667.55,190.68 L667.80,190.28 L668.05,189.94 L668.30,189.66 L668.55,189.44 L668.80,189.26 L669.05,189.12 L669.55,188.93 L670.05,188.81 L670.55,188.74 L671.05,188.70 L683.55,188.57 L684.05,188.52 L684.55,188.45 L685.05,188.34 L685.55,188.16 L685.80,188.04" stroke="#ff0000"/>
</g>
<text transform="translate(614.20,248.70) scale(1.0000,1.0000)" font-family="Liberation Sans" font-size="11.73" font-weight="normal" font-style="normal" fill="#262626" stroke="#262626" stroke-width="0.10">V</text>
<text transform="translate(621.40,254.10) scale(1.0000,1.0000)" font-family="Liberation Sans" font-size="9.40" font-weight="normal" font-style="normal" fill="#262626" stroke="#262626" stroke-width="0.10">T</text>
<text transform="translate(630.93,248.44) scale(1.0000,1.0000)" font-family="Liberation Sans" font-size="11.73" font-weight="normal" font-style="normal" fill="#262626" stroke="#262626" stroke-width="0.10">[ V ]</text>
<text transform="translate(557.60,203.60) rotate(-90) scale(1.0000,1.0000)" font-family="Liberation Sans" font-size="11.73" font-weight="normal" font-style="normal" fill="#262626" stroke="#262626" stroke-width="0.10">G [ e</text>
<text transform="translate(553.00,178.60) rotate(-90) scale(0.9274,1.0000)" font-family="Liberation Sans" font-size="9.71" font-weight="normal" font-style="normal" fill="#262626" stroke="#262626" stroke-width="0.10">2</text>
<text transform="translate(557.60,173.00) rotate(-90) scale(1.0000,1.0000)" font-family="Liberation Sans" font-size="11.73" font-weight="normal" font-style="normal" fill="#262626" stroke="#262626" stroke-width="0.10">/h ]</text>
</g></svg></body></html>
